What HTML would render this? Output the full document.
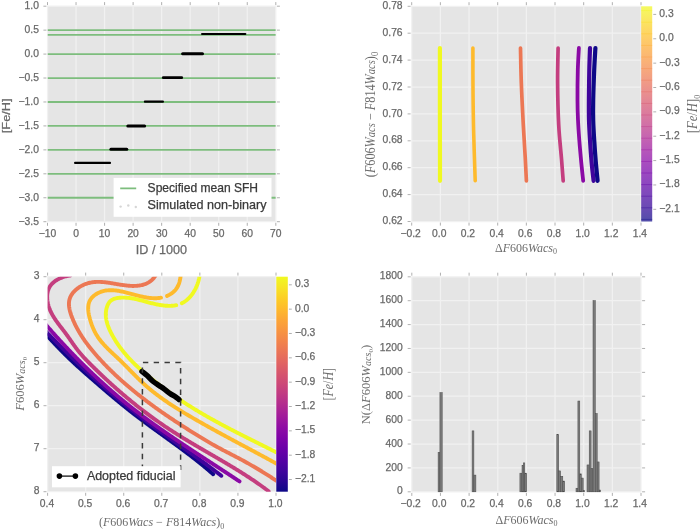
<!DOCTYPE html>
<html><head><meta charset="utf-8"><style>
html,body{margin:0;padding:0;background:#fff;width:700px;height:530px;overflow:hidden}
svg{display:block}
#w{will-change:transform;width:700px;height:530px}
</style></head><body>
<div id="w">
<svg width="700" height="530" viewBox="0 0 700 530">
<rect width="700" height="530" fill="#fff"/>
<rect x="47.5" y="6.2" width="228.30" height="215.50" fill="#e5e5e5"/>
<line x1="47.50" y1="6.2" x2="47.50" y2="221.7" stroke="#f1f1f1" stroke-width="1.25"/>
<line x1="76.04" y1="6.2" x2="76.04" y2="221.7" stroke="#f1f1f1" stroke-width="1.25"/>
<line x1="104.58" y1="6.2" x2="104.58" y2="221.7" stroke="#f1f1f1" stroke-width="1.25"/>
<line x1="133.11" y1="6.2" x2="133.11" y2="221.7" stroke="#f1f1f1" stroke-width="1.25"/>
<line x1="161.65" y1="6.2" x2="161.65" y2="221.7" stroke="#f1f1f1" stroke-width="1.25"/>
<line x1="190.19" y1="6.2" x2="190.19" y2="221.7" stroke="#f1f1f1" stroke-width="1.25"/>
<line x1="218.72" y1="6.2" x2="218.72" y2="221.7" stroke="#f1f1f1" stroke-width="1.25"/>
<line x1="247.26" y1="6.2" x2="247.26" y2="221.7" stroke="#f1f1f1" stroke-width="1.25"/>
<line x1="275.80" y1="6.2" x2="275.80" y2="221.7" stroke="#f1f1f1" stroke-width="1.25"/>
<line x1="47.5" y1="6.20" x2="275.8" y2="6.20" stroke="#f1f1f1" stroke-width="1.25"/>
<line x1="47.5" y1="30.14" x2="275.8" y2="30.14" stroke="#f1f1f1" stroke-width="1.25"/>
<line x1="47.5" y1="54.09" x2="275.8" y2="54.09" stroke="#f1f1f1" stroke-width="1.25"/>
<line x1="47.5" y1="78.03" x2="275.8" y2="78.03" stroke="#f1f1f1" stroke-width="1.25"/>
<line x1="47.5" y1="101.98" x2="275.8" y2="101.98" stroke="#f1f1f1" stroke-width="1.25"/>
<line x1="47.5" y1="125.92" x2="275.8" y2="125.92" stroke="#f1f1f1" stroke-width="1.25"/>
<line x1="47.5" y1="149.87" x2="275.8" y2="149.87" stroke="#f1f1f1" stroke-width="1.25"/>
<line x1="47.5" y1="173.81" x2="275.8" y2="173.81" stroke="#f1f1f1" stroke-width="1.25"/>
<line x1="47.5" y1="197.76" x2="275.8" y2="197.76" stroke="#f1f1f1" stroke-width="1.25"/>
<line x1="47.5" y1="221.70" x2="275.8" y2="221.70" stroke="#f1f1f1" stroke-width="1.25"/>
<clipPath id="c1"><rect x="47.5" y="6.2" width="228.3" height="215.5"/></clipPath>
<g clip-path="url(#c1)">
<line x1="47.5" y1="30.14" x2="275.8" y2="30.14" stroke="#7dbd7d" stroke-width="1.8"/>
<line x1="47.5" y1="34.93" x2="275.8" y2="34.93" stroke="#7dbd7d" stroke-width="1.8"/>
<line x1="47.5" y1="54.09" x2="275.8" y2="54.09" stroke="#7dbd7d" stroke-width="1.8"/>
<line x1="47.5" y1="78.03" x2="275.8" y2="78.03" stroke="#7dbd7d" stroke-width="1.8"/>
<line x1="47.5" y1="101.98" x2="275.8" y2="101.98" stroke="#7dbd7d" stroke-width="1.8"/>
<line x1="47.5" y1="125.92" x2="275.8" y2="125.92" stroke="#7dbd7d" stroke-width="1.8"/>
<line x1="47.5" y1="149.87" x2="275.8" y2="149.87" stroke="#7dbd7d" stroke-width="1.8"/>
<line x1="47.5" y1="173.81" x2="275.8" y2="173.81" stroke="#7dbd7d" stroke-width="1.8"/>
<line x1="47.5" y1="197.76" x2="275.8" y2="197.76" stroke="#7dbd7d" stroke-width="1.8"/>
<line x1="202.00" y1="34.1" x2="245.40" y2="34.1" stroke="#000" stroke-width="2.0" stroke-linecap="round"/>
<line x1="182.60" y1="53.8" x2="202.50" y2="53.8" stroke="#000" stroke-width="3.0" stroke-linecap="round"/>
<line x1="163.30" y1="77.7" x2="181.70" y2="77.7" stroke="#000" stroke-width="2.8" stroke-linecap="round"/>
<line x1="144.90" y1="101.7" x2="162.90" y2="101.7" stroke="#000" stroke-width="2.2" stroke-linecap="round"/>
<line x1="127.80" y1="126.1" x2="144.60" y2="126.1" stroke="#000" stroke-width="3.0" stroke-linecap="round"/>
<line x1="110.90" y1="149.3" x2="126.80" y2="149.3" stroke="#000" stroke-width="3.0" stroke-linecap="round"/>
<line x1="75.10" y1="162.9" x2="110.00" y2="162.9" stroke="#000" stroke-width="2.2" stroke-linecap="round"/>
<rect x="113.6" y="177.9" width="157.9" height="38.9" fill="#ffffff"/>
<line x1="120.2" y1="188.4" x2="136.2" y2="188.4" stroke="#7dbd7d" stroke-width="1.6"/>
<circle cx="120.6" cy="206.6" r="1.2" fill="#d6d6d6"/>
<circle cx="128.3" cy="205.5" r="1.2" fill="#d6d6d6"/>
<circle cx="135.8" cy="207.0" r="1.2" fill="#d6d6d6"/>
</g>
<line x1="47.50" y1="222.79999999999998" x2="47.50" y2="225.79999999999998" stroke="#9c9c9c" stroke-width="0.8"/>
<line x1="47.50" y1="5.1" x2="47.50" y2="2.0999999999999996" stroke="#9c9c9c" stroke-width="0.8"/>
<line x1="76.04" y1="222.79999999999998" x2="76.04" y2="225.79999999999998" stroke="#9c9c9c" stroke-width="0.8"/>
<line x1="76.04" y1="5.1" x2="76.04" y2="2.0999999999999996" stroke="#9c9c9c" stroke-width="0.8"/>
<line x1="104.58" y1="222.79999999999998" x2="104.58" y2="225.79999999999998" stroke="#9c9c9c" stroke-width="0.8"/>
<line x1="104.58" y1="5.1" x2="104.58" y2="2.0999999999999996" stroke="#9c9c9c" stroke-width="0.8"/>
<line x1="133.11" y1="222.79999999999998" x2="133.11" y2="225.79999999999998" stroke="#9c9c9c" stroke-width="0.8"/>
<line x1="133.11" y1="5.1" x2="133.11" y2="2.0999999999999996" stroke="#9c9c9c" stroke-width="0.8"/>
<line x1="161.65" y1="222.79999999999998" x2="161.65" y2="225.79999999999998" stroke="#9c9c9c" stroke-width="0.8"/>
<line x1="161.65" y1="5.1" x2="161.65" y2="2.0999999999999996" stroke="#9c9c9c" stroke-width="0.8"/>
<line x1="190.19" y1="222.79999999999998" x2="190.19" y2="225.79999999999998" stroke="#9c9c9c" stroke-width="0.8"/>
<line x1="190.19" y1="5.1" x2="190.19" y2="2.0999999999999996" stroke="#9c9c9c" stroke-width="0.8"/>
<line x1="218.72" y1="222.79999999999998" x2="218.72" y2="225.79999999999998" stroke="#9c9c9c" stroke-width="0.8"/>
<line x1="218.72" y1="5.1" x2="218.72" y2="2.0999999999999996" stroke="#9c9c9c" stroke-width="0.8"/>
<line x1="247.26" y1="222.79999999999998" x2="247.26" y2="225.79999999999998" stroke="#9c9c9c" stroke-width="0.8"/>
<line x1="247.26" y1="5.1" x2="247.26" y2="2.0999999999999996" stroke="#9c9c9c" stroke-width="0.8"/>
<line x1="275.80" y1="222.79999999999998" x2="275.80" y2="225.79999999999998" stroke="#9c9c9c" stroke-width="0.8"/>
<line x1="275.80" y1="5.1" x2="275.80" y2="2.0999999999999996" stroke="#9c9c9c" stroke-width="0.8"/>
<line x1="46.4" y1="6.20" x2="43.4" y2="6.20" stroke="#9c9c9c" stroke-width="0.8"/>
<line x1="276.90000000000003" y1="6.20" x2="279.90000000000003" y2="6.20" stroke="#9c9c9c" stroke-width="0.8"/>
<line x1="46.4" y1="30.14" x2="43.4" y2="30.14" stroke="#9c9c9c" stroke-width="0.8"/>
<line x1="276.90000000000003" y1="30.14" x2="279.90000000000003" y2="30.14" stroke="#9c9c9c" stroke-width="0.8"/>
<line x1="46.4" y1="54.09" x2="43.4" y2="54.09" stroke="#9c9c9c" stroke-width="0.8"/>
<line x1="276.90000000000003" y1="54.09" x2="279.90000000000003" y2="54.09" stroke="#9c9c9c" stroke-width="0.8"/>
<line x1="46.4" y1="78.03" x2="43.4" y2="78.03" stroke="#9c9c9c" stroke-width="0.8"/>
<line x1="276.90000000000003" y1="78.03" x2="279.90000000000003" y2="78.03" stroke="#9c9c9c" stroke-width="0.8"/>
<line x1="46.4" y1="101.98" x2="43.4" y2="101.98" stroke="#9c9c9c" stroke-width="0.8"/>
<line x1="276.90000000000003" y1="101.98" x2="279.90000000000003" y2="101.98" stroke="#9c9c9c" stroke-width="0.8"/>
<line x1="46.4" y1="125.92" x2="43.4" y2="125.92" stroke="#9c9c9c" stroke-width="0.8"/>
<line x1="276.90000000000003" y1="125.92" x2="279.90000000000003" y2="125.92" stroke="#9c9c9c" stroke-width="0.8"/>
<line x1="46.4" y1="149.87" x2="43.4" y2="149.87" stroke="#9c9c9c" stroke-width="0.8"/>
<line x1="276.90000000000003" y1="149.87" x2="279.90000000000003" y2="149.87" stroke="#9c9c9c" stroke-width="0.8"/>
<line x1="46.4" y1="173.81" x2="43.4" y2="173.81" stroke="#9c9c9c" stroke-width="0.8"/>
<line x1="276.90000000000003" y1="173.81" x2="279.90000000000003" y2="173.81" stroke="#9c9c9c" stroke-width="0.8"/>
<line x1="46.4" y1="197.76" x2="43.4" y2="197.76" stroke="#9c9c9c" stroke-width="0.8"/>
<line x1="276.90000000000003" y1="197.76" x2="279.90000000000003" y2="197.76" stroke="#9c9c9c" stroke-width="0.8"/>
<line x1="46.4" y1="221.70" x2="43.4" y2="221.70" stroke="#9c9c9c" stroke-width="0.8"/>
<line x1="276.90000000000003" y1="221.70" x2="279.90000000000003" y2="221.70" stroke="#9c9c9c" stroke-width="0.8"/>
<text x="147.60" y="192.00" font-size="12.05" text-anchor="start" fill="#3a3a3a" stroke="#3a3a3a" stroke-width="0.25" font-family='"Liberation Sans", sans-serif' >Specified mean SFH</text>
<text x="147.60" y="209.00" font-size="12.6" text-anchor="start" fill="#3a3a3a" stroke="#3a3a3a" stroke-width="0.25" font-family='"Liberation Sans", sans-serif' >Simulated non-binary</text>
<text x="47.50" y="236.91" font-size="10.3" text-anchor="middle" fill="#686868" stroke="#686868" stroke-width="0.25" font-family='"Liberation Sans", sans-serif' >−10</text>
<text x="76.04" y="236.91" font-size="10.3" text-anchor="middle" fill="#686868" stroke="#686868" stroke-width="0.25" font-family='"Liberation Sans", sans-serif' >0</text>
<text x="104.58" y="236.91" font-size="10.3" text-anchor="middle" fill="#686868" stroke="#686868" stroke-width="0.25" font-family='"Liberation Sans", sans-serif' >10</text>
<text x="133.11" y="236.91" font-size="10.3" text-anchor="middle" fill="#686868" stroke="#686868" stroke-width="0.25" font-family='"Liberation Sans", sans-serif' >20</text>
<text x="161.65" y="236.91" font-size="10.3" text-anchor="middle" fill="#686868" stroke="#686868" stroke-width="0.25" font-family='"Liberation Sans", sans-serif' >30</text>
<text x="190.19" y="236.91" font-size="10.3" text-anchor="middle" fill="#686868" stroke="#686868" stroke-width="0.25" font-family='"Liberation Sans", sans-serif' >40</text>
<text x="218.72" y="236.91" font-size="10.3" text-anchor="middle" fill="#686868" stroke="#686868" stroke-width="0.25" font-family='"Liberation Sans", sans-serif' >50</text>
<text x="247.26" y="236.91" font-size="10.3" text-anchor="middle" fill="#686868" stroke="#686868" stroke-width="0.25" font-family='"Liberation Sans", sans-serif' >60</text>
<text x="275.80" y="236.91" font-size="10.3" text-anchor="middle" fill="#686868" stroke="#686868" stroke-width="0.25" font-family='"Liberation Sans", sans-serif' >70</text>
<text x="38.90" y="9.31" font-size="10.3" text-anchor="end" fill="#686868" stroke="#686868" stroke-width="0.25" font-family='"Liberation Sans", sans-serif' >1.0</text>
<text x="38.90" y="33.25" font-size="10.3" text-anchor="end" fill="#686868" stroke="#686868" stroke-width="0.25" font-family='"Liberation Sans", sans-serif' >0.5</text>
<text x="38.90" y="57.20" font-size="10.3" text-anchor="end" fill="#686868" stroke="#686868" stroke-width="0.25" font-family='"Liberation Sans", sans-serif' >0.0</text>
<text x="38.90" y="81.14" font-size="10.3" text-anchor="end" fill="#686868" stroke="#686868" stroke-width="0.25" font-family='"Liberation Sans", sans-serif' >−0.5</text>
<text x="38.90" y="105.09" font-size="10.3" text-anchor="end" fill="#686868" stroke="#686868" stroke-width="0.25" font-family='"Liberation Sans", sans-serif' >−1.0</text>
<text x="38.90" y="129.03" font-size="10.3" text-anchor="end" fill="#686868" stroke="#686868" stroke-width="0.25" font-family='"Liberation Sans", sans-serif' >−1.5</text>
<text x="38.90" y="152.97" font-size="10.3" text-anchor="end" fill="#686868" stroke="#686868" stroke-width="0.25" font-family='"Liberation Sans", sans-serif' >−2.0</text>
<text x="38.90" y="176.92" font-size="10.3" text-anchor="end" fill="#686868" stroke="#686868" stroke-width="0.25" font-family='"Liberation Sans", sans-serif' >−2.5</text>
<text x="38.90" y="200.86" font-size="10.3" text-anchor="end" fill="#686868" stroke="#686868" stroke-width="0.25" font-family='"Liberation Sans", sans-serif' >−3.0</text>
<text x="38.90" y="224.81" font-size="10.3" text-anchor="end" fill="#686868" stroke="#686868" stroke-width="0.25" font-family='"Liberation Sans", sans-serif' >−3.5</text>
<text x="161.40" y="253.84" font-size="12.6" text-anchor="middle" fill="#686868" stroke="#686868" stroke-width="0.25" font-family='"Liberation Sans", sans-serif' >ID / 1000</text>
<text transform="translate(9.57,115.8) rotate(-90) scale(1,0.8)" font-size="12.8" text-anchor="middle" fill="#686868" stroke="#686868" stroke-width="0.3" font-family='"Liberation Sans", sans-serif'>[Fe/H]</text>
<rect x="411.7" y="6.3" width="229.30" height="215.20" fill="#e5e5e5"/>
<line x1="411.70" y1="6.3" x2="411.70" y2="221.5" stroke="#f1f1f1" stroke-width="1.25"/>
<line x1="440.36" y1="6.3" x2="440.36" y2="221.5" stroke="#f1f1f1" stroke-width="1.25"/>
<line x1="469.02" y1="6.3" x2="469.02" y2="221.5" stroke="#f1f1f1" stroke-width="1.25"/>
<line x1="497.69" y1="6.3" x2="497.69" y2="221.5" stroke="#f1f1f1" stroke-width="1.25"/>
<line x1="526.35" y1="6.3" x2="526.35" y2="221.5" stroke="#f1f1f1" stroke-width="1.25"/>
<line x1="555.01" y1="6.3" x2="555.01" y2="221.5" stroke="#f1f1f1" stroke-width="1.25"/>
<line x1="583.68" y1="6.3" x2="583.68" y2="221.5" stroke="#f1f1f1" stroke-width="1.25"/>
<line x1="612.34" y1="6.3" x2="612.34" y2="221.5" stroke="#f1f1f1" stroke-width="1.25"/>
<line x1="641.00" y1="6.3" x2="641.00" y2="221.5" stroke="#f1f1f1" stroke-width="1.25"/>
<line x1="411.7" y1="6.30" x2="641.0" y2="6.30" stroke="#f1f1f1" stroke-width="1.25"/>
<line x1="411.7" y1="33.20" x2="641.0" y2="33.20" stroke="#f1f1f1" stroke-width="1.25"/>
<line x1="411.7" y1="60.10" x2="641.0" y2="60.10" stroke="#f1f1f1" stroke-width="1.25"/>
<line x1="411.7" y1="87.00" x2="641.0" y2="87.00" stroke="#f1f1f1" stroke-width="1.25"/>
<line x1="411.7" y1="113.90" x2="641.0" y2="113.90" stroke="#f1f1f1" stroke-width="1.25"/>
<line x1="411.7" y1="140.80" x2="641.0" y2="140.80" stroke="#f1f1f1" stroke-width="1.25"/>
<line x1="411.7" y1="167.70" x2="641.0" y2="167.70" stroke="#f1f1f1" stroke-width="1.25"/>
<line x1="411.7" y1="194.60" x2="641.0" y2="194.60" stroke="#f1f1f1" stroke-width="1.25"/>
<line x1="411.7" y1="221.50" x2="641.0" y2="221.50" stroke="#f1f1f1" stroke-width="1.25"/>
<clipPath id="c2"><rect x="411.7" y="6.3" width="229.3" height="215.2"/></clipPath>
<g clip-path="url(#c2)">
<path d="M439.90,48.00 C439.90,58.33 439.88,87.87 439.90,110.00 C439.92,132.13 439.98,169.00 440.00,180.80" fill="none" stroke="#f0f921" stroke-width="4.2" stroke-linecap="round" stroke-linejoin="round"/>
<path d="M472.90,48.00 C472.92,55.00 472.88,76.33 473.00,90.00 C473.12,103.67 473.23,114.87 473.60,130.00 C473.97,145.13 474.93,172.33 475.20,180.80" fill="none" stroke="#feba2c" stroke-width="3.6" stroke-linecap="round" stroke-linejoin="round"/>
<path d="M520.50,48.00 C520.63,53.75 520.83,69.68 521.30,82.50 C521.77,95.32 522.63,112.17 523.30,124.90 C523.97,137.63 524.78,149.58 525.30,158.90 C525.82,168.22 526.22,177.15 526.40,180.80" fill="none" stroke="#ec7754" stroke-width="3.7" stroke-linecap="round" stroke-linejoin="round"/>
<path d="M558.10,48.00 C558.02,53.75 557.50,69.68 557.60,82.50 C557.70,95.32 558.05,112.17 558.70,124.90 C559.35,137.63 560.75,149.58 561.50,158.90 C562.25,168.22 562.92,177.15 563.20,180.80" fill="none" stroke="#c43e7f" stroke-width="3.7" stroke-linecap="round" stroke-linejoin="round"/>
<path d="M578.90,48.00 C578.72,51.70 578.03,61.47 577.80,70.20 C577.57,78.93 577.47,92.10 577.50,100.40 C577.53,108.70 577.70,113.37 578.00,120.00 C578.30,126.63 578.75,133.07 579.30,140.20 C579.85,147.33 580.65,156.03 581.30,162.80 C581.95,169.57 582.88,177.80 583.20,180.80" fill="none" stroke="#8a09a5" stroke-width="3.8" stroke-linecap="round" stroke-linejoin="round"/>
<path d="M590.00,48.00 C589.88,51.67 589.48,61.33 589.30,70.00 C589.12,78.67 588.95,91.67 588.90,100.00 C588.85,108.33 588.82,113.33 589.00,120.00 C589.18,126.67 589.57,133.00 590.00,140.00 C590.43,147.00 591.00,155.20 591.60,162.00 C592.20,168.80 593.27,177.67 593.60,180.80" fill="none" stroke="#3f049c" stroke-width="4.2" stroke-linecap="round" stroke-linejoin="round"/>
<path d="M595.40,48.00 C595.20,51.67 594.57,61.33 594.20,70.00 C593.83,78.67 593.37,91.67 593.20,100.00 C593.03,108.33 593.03,113.33 593.20,120.00 C593.37,126.67 593.77,133.00 594.20,140.00 C594.63,147.00 595.23,155.20 595.80,162.00 C596.37,168.80 597.30,177.67 597.60,180.80" fill="none" stroke="#0d0887" stroke-width="4.2" stroke-linecap="round" stroke-linejoin="round"/>
</g>
<line x1="411.70" y1="222.6" x2="411.70" y2="225.6" stroke="#9c9c9c" stroke-width="0.8"/>
<line x1="411.70" y1="5.199999999999999" x2="411.70" y2="2.1999999999999993" stroke="#9c9c9c" stroke-width="0.8"/>
<line x1="440.36" y1="222.6" x2="440.36" y2="225.6" stroke="#9c9c9c" stroke-width="0.8"/>
<line x1="440.36" y1="5.199999999999999" x2="440.36" y2="2.1999999999999993" stroke="#9c9c9c" stroke-width="0.8"/>
<line x1="469.02" y1="222.6" x2="469.02" y2="225.6" stroke="#9c9c9c" stroke-width="0.8"/>
<line x1="469.02" y1="5.199999999999999" x2="469.02" y2="2.1999999999999993" stroke="#9c9c9c" stroke-width="0.8"/>
<line x1="497.69" y1="222.6" x2="497.69" y2="225.6" stroke="#9c9c9c" stroke-width="0.8"/>
<line x1="497.69" y1="5.199999999999999" x2="497.69" y2="2.1999999999999993" stroke="#9c9c9c" stroke-width="0.8"/>
<line x1="526.35" y1="222.6" x2="526.35" y2="225.6" stroke="#9c9c9c" stroke-width="0.8"/>
<line x1="526.35" y1="5.199999999999999" x2="526.35" y2="2.1999999999999993" stroke="#9c9c9c" stroke-width="0.8"/>
<line x1="555.01" y1="222.6" x2="555.01" y2="225.6" stroke="#9c9c9c" stroke-width="0.8"/>
<line x1="555.01" y1="5.199999999999999" x2="555.01" y2="2.1999999999999993" stroke="#9c9c9c" stroke-width="0.8"/>
<line x1="583.68" y1="222.6" x2="583.68" y2="225.6" stroke="#9c9c9c" stroke-width="0.8"/>
<line x1="583.68" y1="5.199999999999999" x2="583.68" y2="2.1999999999999993" stroke="#9c9c9c" stroke-width="0.8"/>
<line x1="612.34" y1="222.6" x2="612.34" y2="225.6" stroke="#9c9c9c" stroke-width="0.8"/>
<line x1="612.34" y1="5.199999999999999" x2="612.34" y2="2.1999999999999993" stroke="#9c9c9c" stroke-width="0.8"/>
<line x1="641.00" y1="222.6" x2="641.00" y2="225.6" stroke="#9c9c9c" stroke-width="0.8"/>
<line x1="641.00" y1="5.199999999999999" x2="641.00" y2="2.1999999999999993" stroke="#9c9c9c" stroke-width="0.8"/>
<line x1="410.59999999999997" y1="6.30" x2="407.59999999999997" y2="6.30" stroke="#9c9c9c" stroke-width="0.8"/>
<line x1="410.59999999999997" y1="33.20" x2="407.59999999999997" y2="33.20" stroke="#9c9c9c" stroke-width="0.8"/>
<line x1="410.59999999999997" y1="60.10" x2="407.59999999999997" y2="60.10" stroke="#9c9c9c" stroke-width="0.8"/>
<line x1="410.59999999999997" y1="87.00" x2="407.59999999999997" y2="87.00" stroke="#9c9c9c" stroke-width="0.8"/>
<line x1="410.59999999999997" y1="113.90" x2="407.59999999999997" y2="113.90" stroke="#9c9c9c" stroke-width="0.8"/>
<line x1="410.59999999999997" y1="140.80" x2="407.59999999999997" y2="140.80" stroke="#9c9c9c" stroke-width="0.8"/>
<line x1="410.59999999999997" y1="167.70" x2="407.59999999999997" y2="167.70" stroke="#9c9c9c" stroke-width="0.8"/>
<line x1="410.59999999999997" y1="194.60" x2="407.59999999999997" y2="194.60" stroke="#9c9c9c" stroke-width="0.8"/>
<line x1="410.59999999999997" y1="221.50" x2="407.59999999999997" y2="221.50" stroke="#9c9c9c" stroke-width="0.8"/>
<text x="410.60" y="237.01" font-size="10.3" text-anchor="middle" fill="#686868" stroke="#686868" stroke-width="0.25" font-family='"Liberation Sans", sans-serif' >−0.2</text>
<text x="439.26" y="237.01" font-size="10.3" text-anchor="middle" fill="#686868" stroke="#686868" stroke-width="0.25" font-family='"Liberation Sans", sans-serif' >0.0</text>
<text x="467.92" y="237.01" font-size="10.3" text-anchor="middle" fill="#686868" stroke="#686868" stroke-width="0.25" font-family='"Liberation Sans", sans-serif' >0.2</text>
<text x="496.59" y="237.01" font-size="10.3" text-anchor="middle" fill="#686868" stroke="#686868" stroke-width="0.25" font-family='"Liberation Sans", sans-serif' >0.4</text>
<text x="525.25" y="237.01" font-size="10.3" text-anchor="middle" fill="#686868" stroke="#686868" stroke-width="0.25" font-family='"Liberation Sans", sans-serif' >0.6</text>
<text x="553.91" y="237.01" font-size="10.3" text-anchor="middle" fill="#686868" stroke="#686868" stroke-width="0.25" font-family='"Liberation Sans", sans-serif' >0.8</text>
<text x="582.58" y="237.01" font-size="10.3" text-anchor="middle" fill="#686868" stroke="#686868" stroke-width="0.25" font-family='"Liberation Sans", sans-serif' >1.0</text>
<text x="611.24" y="237.01" font-size="10.3" text-anchor="middle" fill="#686868" stroke="#686868" stroke-width="0.25" font-family='"Liberation Sans", sans-serif' >1.2</text>
<text x="639.90" y="237.01" font-size="10.3" text-anchor="middle" fill="#686868" stroke="#686868" stroke-width="0.25" font-family='"Liberation Sans", sans-serif' >1.4</text>
<text x="402.60" y="8.91" font-size="10.3" text-anchor="end" fill="#686868" stroke="#686868" stroke-width="0.25" font-family='"Liberation Sans", sans-serif' >0.78</text>
<text x="402.60" y="35.81" font-size="10.3" text-anchor="end" fill="#686868" stroke="#686868" stroke-width="0.25" font-family='"Liberation Sans", sans-serif' >0.76</text>
<text x="402.60" y="62.71" font-size="10.3" text-anchor="end" fill="#686868" stroke="#686868" stroke-width="0.25" font-family='"Liberation Sans", sans-serif' >0.74</text>
<text x="402.60" y="89.61" font-size="10.3" text-anchor="end" fill="#686868" stroke="#686868" stroke-width="0.25" font-family='"Liberation Sans", sans-serif' >0.72</text>
<text x="402.60" y="116.51" font-size="10.3" text-anchor="end" fill="#686868" stroke="#686868" stroke-width="0.25" font-family='"Liberation Sans", sans-serif' >0.70</text>
<text x="402.60" y="143.41" font-size="10.3" text-anchor="end" fill="#686868" stroke="#686868" stroke-width="0.25" font-family='"Liberation Sans", sans-serif' >0.68</text>
<text x="402.60" y="170.31" font-size="10.3" text-anchor="end" fill="#686868" stroke="#686868" stroke-width="0.25" font-family='"Liberation Sans", sans-serif' >0.66</text>
<text x="402.60" y="197.21" font-size="10.3" text-anchor="end" fill="#686868" stroke="#686868" stroke-width="0.25" font-family='"Liberation Sans", sans-serif' >0.64</text>
<text x="402.60" y="224.11" font-size="10.3" text-anchor="end" fill="#686868" stroke="#686868" stroke-width="0.25" font-family='"Liberation Sans", sans-serif' >0.62</text>
<defs><linearGradient id="gp" x1="0" y1="1" x2="0" y2="0"><stop offset="0.000" stop-color="#0d0887"/><stop offset="0.050" stop-color="#2a0593"/><stop offset="0.100" stop-color="#41049d"/><stop offset="0.150" stop-color="#5601a4"/><stop offset="0.200" stop-color="#6a00a8"/><stop offset="0.250" stop-color="#7e03a8"/><stop offset="0.300" stop-color="#8f0da4"/><stop offset="0.350" stop-color="#a11b9b"/><stop offset="0.400" stop-color="#b12a90"/><stop offset="0.450" stop-color="#bf3984"/><stop offset="0.500" stop-color="#cc4778"/><stop offset="0.550" stop-color="#d6556d"/><stop offset="0.600" stop-color="#e16462"/><stop offset="0.650" stop-color="#ea7457"/><stop offset="0.700" stop-color="#f2844b"/><stop offset="0.750" stop-color="#f89540"/><stop offset="0.800" stop-color="#fca636"/><stop offset="0.850" stop-color="#feba2c"/><stop offset="0.900" stop-color="#fcce25"/><stop offset="0.950" stop-color="#f7e425"/><stop offset="1.000" stop-color="#f0f921"/></linearGradient></defs>
<rect x="641.2" y="6.3" width="11.0" height="215.2" fill="url(#gp)" opacity="0.72"/>
<defs><linearGradient id="gpu" gradientUnits="userSpaceOnUse" x1="0" y1="221.5" x2="0" y2="6.3"><stop offset="0.000" stop-color="#0d0887"/><stop offset="0.050" stop-color="#2a0593"/><stop offset="0.100" stop-color="#41049d"/><stop offset="0.150" stop-color="#5601a4"/><stop offset="0.200" stop-color="#6a00a8"/><stop offset="0.250" stop-color="#7e03a8"/><stop offset="0.300" stop-color="#8f0da4"/><stop offset="0.350" stop-color="#a11b9b"/><stop offset="0.400" stop-color="#b12a90"/><stop offset="0.450" stop-color="#bf3984"/><stop offset="0.500" stop-color="#cc4778"/><stop offset="0.550" stop-color="#d6556d"/><stop offset="0.600" stop-color="#e16462"/><stop offset="0.650" stop-color="#ea7457"/><stop offset="0.700" stop-color="#f2844b"/><stop offset="0.750" stop-color="#f89540"/><stop offset="0.800" stop-color="#fca636"/><stop offset="0.850" stop-color="#feba2c"/><stop offset="0.900" stop-color="#fcce25"/><stop offset="0.950" stop-color="#f7e425"/><stop offset="1.000" stop-color="#f0f921"/></linearGradient></defs>
<rect x="641.2" y="10.10" width="11.00" height="1" fill="url(#gpu)" opacity="0.4"/>
<rect x="641.2" y="21.70" width="11.00" height="1" fill="url(#gpu)" opacity="0.4"/>
<rect x="641.2" y="33.30" width="11.00" height="1" fill="url(#gpu)" opacity="0.4"/>
<rect x="641.2" y="44.90" width="11.00" height="1" fill="url(#gpu)" opacity="0.4"/>
<rect x="641.2" y="56.50" width="11.00" height="1" fill="url(#gpu)" opacity="0.4"/>
<rect x="641.2" y="68.10" width="11.00" height="1" fill="url(#gpu)" opacity="0.4"/>
<rect x="641.2" y="79.70" width="11.00" height="1" fill="url(#gpu)" opacity="0.4"/>
<rect x="641.2" y="91.30" width="11.00" height="1" fill="url(#gpu)" opacity="0.4"/>
<rect x="641.2" y="102.90" width="11.00" height="1" fill="url(#gpu)" opacity="0.4"/>
<rect x="641.2" y="114.50" width="11.00" height="1" fill="url(#gpu)" opacity="0.4"/>
<rect x="641.2" y="126.10" width="11.00" height="1" fill="url(#gpu)" opacity="0.4"/>
<rect x="641.2" y="137.70" width="11.00" height="1" fill="url(#gpu)" opacity="0.4"/>
<rect x="641.2" y="149.30" width="11.00" height="1" fill="url(#gpu)" opacity="0.4"/>
<rect x="641.2" y="160.90" width="11.00" height="1" fill="url(#gpu)" opacity="0.4"/>
<rect x="641.2" y="172.50" width="11.00" height="1" fill="url(#gpu)" opacity="0.4"/>
<rect x="641.2" y="184.10" width="11.00" height="1" fill="url(#gpu)" opacity="0.4"/>
<rect x="641.2" y="195.70" width="11.00" height="1" fill="url(#gpu)" opacity="0.4"/>
<rect x="641.2" y="207.30" width="11.00" height="1" fill="url(#gpu)" opacity="0.4"/>
<rect x="641.2" y="218.90" width="11.00" height="1" fill="url(#gpu)" opacity="0.4"/>
<line x1="653.3000000000001" y1="14.42" x2="656.2" y2="14.42" stroke="#9c9c9c" stroke-width="0.8"/>
<text x="659.30" y="16.93" font-size="10.3" text-anchor="start" fill="#686868" stroke="#686868" stroke-width="0.25" font-family='"Liberation Sans", sans-serif' >0.3</text>
<line x1="653.3000000000001" y1="38.78" x2="656.2" y2="38.78" stroke="#9c9c9c" stroke-width="0.8"/>
<text x="659.30" y="41.29" font-size="10.3" text-anchor="start" fill="#686868" stroke="#686868" stroke-width="0.25" font-family='"Liberation Sans", sans-serif' >0.0</text>
<line x1="653.3000000000001" y1="63.15" x2="656.2" y2="63.15" stroke="#9c9c9c" stroke-width="0.8"/>
<text x="659.30" y="65.65" font-size="10.3" text-anchor="start" fill="#686868" stroke="#686868" stroke-width="0.25" font-family='"Liberation Sans", sans-serif' >−0.3</text>
<line x1="653.3000000000001" y1="87.51" x2="656.2" y2="87.51" stroke="#9c9c9c" stroke-width="0.8"/>
<text x="659.30" y="90.02" font-size="10.3" text-anchor="start" fill="#686868" stroke="#686868" stroke-width="0.25" font-family='"Liberation Sans", sans-serif' >−0.6</text>
<line x1="653.3000000000001" y1="111.87" x2="656.2" y2="111.87" stroke="#9c9c9c" stroke-width="0.8"/>
<text x="659.30" y="114.38" font-size="10.3" text-anchor="start" fill="#686868" stroke="#686868" stroke-width="0.25" font-family='"Liberation Sans", sans-serif' >−0.9</text>
<line x1="653.3000000000001" y1="136.23" x2="656.2" y2="136.23" stroke="#9c9c9c" stroke-width="0.8"/>
<text x="659.30" y="138.74" font-size="10.3" text-anchor="start" fill="#686868" stroke="#686868" stroke-width="0.25" font-family='"Liberation Sans", sans-serif' >−1.2</text>
<line x1="653.3000000000001" y1="160.59" x2="656.2" y2="160.59" stroke="#9c9c9c" stroke-width="0.8"/>
<text x="659.30" y="163.10" font-size="10.3" text-anchor="start" fill="#686868" stroke="#686868" stroke-width="0.25" font-family='"Liberation Sans", sans-serif' >−1.5</text>
<line x1="653.3000000000001" y1="184.96" x2="656.2" y2="184.96" stroke="#9c9c9c" stroke-width="0.8"/>
<text x="659.30" y="187.46" font-size="10.3" text-anchor="start" fill="#686868" stroke="#686868" stroke-width="0.25" font-family='"Liberation Sans", sans-serif' >−1.8</text>
<line x1="653.3000000000001" y1="209.32" x2="656.2" y2="209.32" stroke="#9c9c9c" stroke-width="0.8"/>
<text x="659.30" y="211.83" font-size="10.3" text-anchor="start" fill="#686868" stroke="#686868" stroke-width="0.25" font-family='"Liberation Sans", sans-serif' >−2.1</text>
<text transform="translate(697.2,114.0) rotate(-90) scale(1,1.13)" font-size="12.6" text-anchor="middle" fill="#6c6c6c" font-family='"Liberation Serif", serif'>[<tspan font-style="italic">Fe</tspan>/<tspan font-style="italic">H</tspan>]<tspan font-size="8" dy="2.5">0</tspan></text>
<text x="526" y="251.8" font-size="12" text-anchor="middle" fill="#6c6c6c" font-family='"Liberation Serif", serif'>Δ<tspan font-style="italic">F</tspan>606<tspan font-style="italic">Wacs</tspan><tspan font-size="8" dy="2.2">0</tspan></text>
<text transform="translate(374.9,114.5) rotate(-90) scale(1,1.12)" font-size="12.2" text-anchor="middle" fill="#6c6c6c" font-family='"Liberation Serif", serif'>(<tspan font-style="italic">F</tspan>606<tspan font-style="italic">W</tspan><tspan font-style="italic" font-size="10.6">acs</tspan> − <tspan font-style="italic">F</tspan>814<tspan font-style="italic">W</tspan><tspan font-style="italic" font-size="10.6">acs</tspan>)<tspan font-size="8.5" dy="2.4">0</tspan></text>
<rect x="47.6" y="276.7" width="228.40" height="215.00" fill="#e5e5e5"/>
<line x1="47.60" y1="276.7" x2="47.60" y2="491.7" stroke="#f1f1f1" stroke-width="1.25"/>
<line x1="85.67" y1="276.7" x2="85.67" y2="491.7" stroke="#f1f1f1" stroke-width="1.25"/>
<line x1="123.73" y1="276.7" x2="123.73" y2="491.7" stroke="#f1f1f1" stroke-width="1.25"/>
<line x1="161.80" y1="276.7" x2="161.80" y2="491.7" stroke="#f1f1f1" stroke-width="1.25"/>
<line x1="199.87" y1="276.7" x2="199.87" y2="491.7" stroke="#f1f1f1" stroke-width="1.25"/>
<line x1="237.93" y1="276.7" x2="237.93" y2="491.7" stroke="#f1f1f1" stroke-width="1.25"/>
<line x1="276.00" y1="276.7" x2="276.00" y2="491.7" stroke="#f1f1f1" stroke-width="1.25"/>
<line x1="47.6" y1="276.70" x2="276.0" y2="276.70" stroke="#f1f1f1" stroke-width="1.25"/>
<line x1="47.6" y1="319.70" x2="276.0" y2="319.70" stroke="#f1f1f1" stroke-width="1.25"/>
<line x1="47.6" y1="362.70" x2="276.0" y2="362.70" stroke="#f1f1f1" stroke-width="1.25"/>
<line x1="47.6" y1="405.70" x2="276.0" y2="405.70" stroke="#f1f1f1" stroke-width="1.25"/>
<line x1="47.6" y1="448.70" x2="276.0" y2="448.70" stroke="#f1f1f1" stroke-width="1.25"/>
<line x1="47.6" y1="491.70" x2="276.0" y2="491.70" stroke="#f1f1f1" stroke-width="1.25"/>
<clipPath id="c3"><rect x="47.6" y="276.7" width="228.4" height="215.0"/></clipPath>
<g clip-path="url(#c3)">
<path d="M44.13,332.36 L44.50,332.77 L44.88,333.18 L45.25,333.60 L45.63,334.01 L46.00,334.42 L46.38,334.83 L46.75,335.24 L47.13,335.65 L47.50,336.06 L47.88,336.47 L48.25,336.88 L48.63,337.29 L49.01,337.70 L49.38,338.11 L49.76,338.52 L50.14,338.93 L50.51,339.33 L50.89,339.74 L51.27,340.15 L51.65,340.55 L52.03,340.96 L52.40,341.37 L52.78,341.77 L53.16,342.18 L53.54,342.58 L53.92,342.99 L54.30,343.39 L54.68,343.79 L55.06,344.20 L55.44,344.60 L55.83,345.00 L56.21,345.41 L56.59,345.81 L56.97,346.21 L57.36,346.61 L57.74,347.01 L58.12,347.41 L58.51,347.81 L58.89,348.21 L59.28,348.60 L59.66,349.00 L60.05,349.40 L60.44,349.80 L60.82,350.19 L61.21,350.59 L61.60,350.98 L61.99,351.38 L62.38,351.77 L62.76,352.17 L63.15,352.56 L63.54,352.95 L63.94,353.34 L64.33,353.73 L64.72,354.13 L65.11,354.52 L65.50,354.91 L65.90,355.29 L66.29,355.68 L66.69,356.07 L67.08,356.46 L67.48,356.84 L67.87,357.23 L68.27,357.62 L68.67,358.00 L69.06,358.38 L69.46,358.77 L69.86,359.15 L70.26,359.53 L70.66,359.91 L71.06,360.29 L71.47,360.67 L71.87,361.05 L72.27,361.43 L72.67,361.81 L73.08,362.19 L73.48,362.56 L73.89,362.94 L74.29,363.32 L74.70,363.69 L75.11,364.07 L75.51,364.44 L75.92,364.82 L76.33,365.19 L76.74,365.56 L77.15,365.93 L77.56,366.31 L77.97,366.68 L78.38,367.05 L78.79,367.42 L79.20,367.79 L79.61,368.16 L80.02,368.53 L80.43,368.90 L80.85,369.27 L81.26,369.63 L81.67,370.00 L82.09,370.37 L82.50,370.74 L82.91,371.11 L83.33,371.47 L83.74,371.84 L84.16,372.21 L84.57,372.57 L84.99,372.94 L85.40,373.30 L85.82,373.67 L86.23,374.04 L86.65,374.40 L87.07,374.77 L87.48,375.13 L87.90,375.50 L88.32,375.86 L88.73,376.23 L89.15,376.59 L89.57,376.96 L89.98,377.32 L90.40,377.69 L90.82,378.05 L91.24,378.41 L91.65,378.78 L92.07,379.14 L92.49,379.51 L92.91,379.87 L93.32,380.24 L93.74,380.60 L94.16,380.96 L94.58,381.33 L95.00,381.69 L95.41,382.06 L95.83,382.42 L96.25,382.78 L96.67,383.15 L97.09,383.51 L97.51,383.87 L97.93,384.24 L98.35,384.60 L98.76,384.96 L99.18,385.33 L99.60,385.69 L100.02,386.05 L100.44,386.41 L100.86,386.78 L101.28,387.14 L101.70,387.50 L102.12,387.86 L102.55,388.22 L102.97,388.58 L103.39,388.95 L103.81,389.31 L104.23,389.67 L104.65,390.03 L105.07,390.39 L105.49,390.75 L105.92,391.11 L106.34,391.47 L106.76,391.83 L107.18,392.19 L107.61,392.55 L108.03,392.91 L108.45,393.27 L108.88,393.62 L109.30,393.98 L109.72,394.34 L110.15,394.70 L110.57,395.06 L110.99,395.41 L111.42,395.77 L111.84,396.13 L112.27,396.49 L112.69,396.84 L113.12,397.20 L113.54,397.56 L113.97,397.91 L114.40,398.27 L114.82,398.62 L115.25,398.98 L115.67,399.33 L116.10,399.69 L116.53,400.04 L116.96,400.39 L117.38,400.75 L117.81,401.10 L118.24,401.45 L118.67,401.81 L119.10,402.16 L119.52,402.51 L119.95,402.86 L120.38,403.21 L120.81,403.57 L121.24,403.92 L121.67,404.27 L122.10,404.62 L122.53,404.97 L122.96,405.32 L123.40,405.66 L123.83,406.01 L124.26,406.36 L124.69,406.71 L125.12,407.06 L125.55,407.40 L125.99,407.75 L126.42,408.10 L126.85,408.44 L127.29,408.79 L127.72,409.14 L128.16,409.48 L128.59,409.82 L129.02,410.17 L129.46,410.51 L129.90,410.86 L130.33,411.20 L130.77,411.54 L131.20,411.88 L131.64,412.23 L132.08,412.57 L132.51,412.91 L132.95,413.25 L133.39,413.59 L133.83,413.93 L134.27,414.27 L134.71,414.61 L135.14,414.94 L135.58,415.28 L136.02,415.62 L136.46,415.96 L136.90,416.29 L137.35,416.63 L137.79,416.96 L138.23,417.30 L138.67,417.63 L139.11,417.97 L139.55,418.30 L140.00,418.64 L140.44,418.97 L140.88,419.30 L141.32,419.64 L141.77,419.97 L142.21,420.30 L142.66,420.63 L143.10,420.96 L143.54,421.30 L143.99,421.63 L144.43,421.96 L144.88,422.29 L145.32,422.62 L145.77,422.95 L146.22,423.28 L146.66,423.60 L147.11,423.93 L147.55,424.26 L148.00,424.59 L148.45,424.92 L148.89,425.25 L149.34,425.57 L149.79,425.90 L150.24,426.23 L150.68,426.55 L151.13,426.88 L151.58,427.21 L152.03,427.53 L152.47,427.86 L152.92,428.19 L153.37,428.51 L153.82,428.84 L154.27,429.16 L154.71,429.49 L155.16,429.81 L155.61,430.14 L156.06,430.46 L156.51,430.79 L156.96,431.11 L157.41,431.44 L157.86,431.76 L158.31,432.09 L158.75,432.41 L159.20,432.74 L159.65,433.06 L160.10,433.39 L160.55,433.71 L161.00,434.03 L161.45,434.36 L161.90,434.68 L162.35,435.01 L162.80,435.33 L163.25,435.65 L163.70,435.98 L164.15,436.30 L164.60,436.63 L165.04,436.95 L165.49,437.27 L165.94,437.60 L166.39,437.92 L166.84,438.25 L167.29,438.57 L167.74,438.89 L168.19,439.22 L168.64,439.54 L169.09,439.87 L169.53,440.19 L169.98,440.52 L170.43,440.84 L170.88,441.17 L171.33,441.49 L171.78,441.82 L172.23,442.14 L172.67,442.47 L173.12,442.79 L173.57,443.12 L174.02,443.44 L174.46,443.77 L174.91,444.10 L175.36,444.42 L175.81,444.75 L176.25,445.07 L176.70,445.40 L177.15,445.73 L177.59,446.06 L178.04,446.38 L178.49,446.71 L178.93,447.04 L179.38,447.37 L179.82,447.70 L180.27,448.02 L180.71,448.35 L181.16,448.68 L181.60,449.01 L182.05,449.34 L182.49,449.67 L182.94,450.00 L183.38,450.33 L183.82,450.66 L184.27,450.99 L184.71,451.32 L185.15,451.66 L185.60,451.99 L186.04,452.32 L186.48,452.65 L186.92,452.99 L187.36,453.32 L187.81,453.65 L188.25,453.99 L188.69,454.32 L189.13,454.66 L189.57,454.99 L190.01,455.33 L190.45,455.66 L190.89,456.00 L191.32,456.34 L191.76,456.68 L192.20,457.01 L192.64,457.35 L193.08,457.69 L193.51,458.03 L193.95,458.37 L194.39,458.71 L194.82,459.05 L195.26,459.39 L195.69,459.73 L196.13,460.08 L196.56,460.42 L196.99,460.76 L197.43,461.10 L197.86,461.45 L198.29,461.79 L198.73,462.14 L199.16,462.48 L199.59,462.83 L200.02,463.18 L200.45,463.52 L200.88,463.87 L201.31,464.22 L201.74,464.57 L202.17,464.92 L202.60,465.27 L203.02,465.62 L203.45,465.97 L203.88,466.32 L204.31,466.68 L204.73,467.03 L205.16,467.38 L205.58,467.74 L206.01,468.09 L206.43,468.45 L206.85,468.81 L207.28,469.16 L207.70,469.52 L208.12,469.88 L208.54,470.24 L208.96,470.60 L209.38,470.96 L209.80,471.32 L210.22,471.69 L210.64,472.05 L211.06,472.41 L211.47,472.78 L211.89,473.14 L212.31,473.51 L212.72,473.87 L213.14,474.24" fill="none" stroke="#0d0887" stroke-width="3.9" stroke-linecap="round" stroke-linejoin="round"/>
<path d="M44.02,329.45 L44.42,329.86 L44.82,330.28 L45.22,330.70 L45.62,331.11 L46.02,331.53 L46.42,331.94 L46.83,332.36 L47.23,332.78 L47.63,333.19 L48.03,333.61 L48.44,334.02 L48.84,334.44 L49.24,334.85 L49.64,335.26 L50.05,335.68 L50.45,336.09 L50.85,336.51 L51.26,336.92 L51.66,337.33 L52.07,337.75 L52.47,338.16 L52.88,338.57 L53.28,338.98 L53.69,339.40 L54.09,339.81 L54.50,340.22 L54.90,340.63 L55.31,341.04 L55.72,341.45 L56.12,341.87 L56.53,342.28 L56.94,342.69 L57.34,343.10 L57.75,343.51 L58.16,343.92 L58.57,344.33 L58.98,344.74 L59.38,345.14 L59.79,345.55 L60.20,345.96 L60.61,346.37 L61.02,346.78 L61.43,347.19 L61.84,347.59 L62.25,348.00 L62.66,348.41 L63.07,348.82 L63.48,349.22 L63.89,349.63 L64.30,350.04 L64.71,350.44 L65.13,350.85 L65.54,351.25 L65.95,351.66 L66.36,352.06 L66.78,352.47 L67.19,352.87 L67.60,353.28 L68.01,353.68 L68.43,354.09 L68.84,354.49 L69.26,354.89 L69.67,355.30 L70.08,355.70 L70.50,356.10 L70.91,356.50 L71.33,356.91 L71.74,357.31 L72.16,357.71 L72.58,358.11 L72.99,358.51 L73.41,358.91 L73.83,359.31 L74.24,359.71 L74.66,360.11 L75.08,360.51 L75.49,360.91 L75.91,361.31 L76.33,361.71 L76.75,362.11 L77.17,362.51 L77.59,362.90 L78.01,363.30 L78.42,363.70 L78.84,364.10 L79.26,364.49 L79.68,364.89 L80.10,365.29 L80.52,365.68 L80.95,366.08 L81.37,366.48 L81.79,366.87 L82.21,367.27 L82.63,367.66 L83.05,368.06 L83.48,368.45 L83.90,368.84 L84.32,369.24 L84.74,369.63 L85.17,370.02 L85.59,370.42 L86.02,370.81 L86.44,371.20 L86.86,371.59 L87.29,371.98 L87.71,372.38 L88.14,372.77 L88.56,373.16 L88.99,373.55 L89.42,373.94 L89.84,374.33 L90.27,374.72 L90.70,375.11 L91.12,375.50 L91.55,375.88 L91.98,376.27 L92.41,376.66 L92.83,377.05 L93.26,377.44 L93.69,377.82 L94.12,378.21 L94.55,378.60 L94.98,378.98 L95.41,379.37 L95.84,379.75 L96.27,380.14 L96.70,380.52 L97.13,380.91 L97.56,381.29 L97.99,381.68 L98.42,382.06 L98.86,382.44 L99.29,382.83 L99.72,383.21 L100.15,383.59 L100.59,383.97 L101.02,384.35 L101.45,384.74 L101.89,385.12 L102.32,385.50 L102.75,385.88 L103.19,386.26 L103.62,386.64 L104.06,387.02 L104.49,387.40 L104.93,387.77 L105.37,388.15 L105.80,388.53 L106.24,388.91 L106.68,389.29 L107.11,389.66 L107.55,390.04 L107.99,390.42 L108.43,390.79 L108.86,391.17 L109.30,391.54 L109.74,391.92 L110.18,392.29 L110.62,392.67 L111.06,393.04 L111.50,393.41 L111.94,393.79 L112.38,394.16 L112.82,394.53 L113.26,394.90 L113.70,395.28 L114.14,395.65 L114.59,396.02 L115.03,396.39 L115.47,396.76 L115.91,397.13 L116.36,397.50 L116.80,397.87 L117.24,398.24 L117.69,398.61 L118.13,398.98 L118.58,399.34 L119.02,399.71 L119.47,400.08 L119.91,400.44 L120.36,400.81 L120.80,401.18 L121.25,401.54 L121.70,401.91 L122.14,402.27 L122.59,402.64 L123.04,403.00 L123.49,403.37 L123.94,403.73 L124.38,404.09 L124.83,404.45 L125.28,404.82 L125.73,405.18 L126.18,405.54 L126.63,405.90 L127.08,406.26 L127.53,406.62 L127.98,406.98 L128.43,407.34 L128.89,407.70 L129.34,408.06 L129.79,408.42 L130.24,408.78 L130.69,409.13 L131.15,409.49 L131.60,409.85 L132.05,410.20 L132.51,410.56 L132.96,410.92 L133.42,411.27 L133.87,411.63 L134.33,411.98 L134.78,412.33 L135.24,412.69 L135.69,413.04 L136.15,413.39 L136.61,413.75 L137.06,414.10 L137.52,414.45 L137.98,414.80 L138.44,415.15 L138.90,415.50 L139.35,415.85 L139.81,416.20 L140.27,416.55 L140.73,416.90 L141.19,417.25 L141.65,417.60 L142.11,417.95 L142.57,418.30 L143.03,418.64 L143.49,418.99 L143.95,419.34 L144.41,419.68 L144.88,420.03 L145.34,420.38 L145.80,420.72 L146.26,421.07 L146.72,421.41 L147.19,421.76 L147.65,422.10 L148.11,422.45 L148.58,422.79 L149.04,423.13 L149.50,423.48 L149.97,423.82 L150.43,424.16 L150.90,424.51 L151.36,424.85 L151.82,425.19 L152.29,425.53 L152.75,425.87 L153.22,426.21 L153.69,426.56 L154.15,426.90 L154.62,427.24 L155.08,427.58 L155.55,427.92 L156.02,428.26 L156.48,428.60 L156.95,428.94 L157.42,429.28 L157.88,429.62 L158.35,429.95 L158.82,430.29 L159.28,430.63 L159.75,430.97 L160.22,431.31 L160.69,431.65 L161.15,431.99 L161.62,432.32 L162.09,432.66 L162.56,433.00 L163.03,433.34 L163.49,433.67 L163.96,434.01 L164.43,434.35 L164.90,434.68 L165.37,435.02 L165.84,435.36 L166.31,435.69 L166.78,436.03 L167.24,436.37 L167.71,436.70 L168.18,437.04 L168.65,437.37 L169.12,437.71 L169.59,438.04 L170.06,438.38 L170.53,438.72 L171.00,439.05 L171.47,439.39 L171.94,439.72 L172.41,440.06 L172.88,440.39 L173.35,440.73 L173.82,441.06 L174.29,441.40 L174.76,441.73 L175.23,442.07 L175.70,442.40 L176.17,442.74 L176.64,443.07 L177.11,443.41 L177.58,443.74 L178.05,444.08 L178.52,444.41 L178.99,444.75 L179.46,445.08 L179.93,445.42 L180.40,445.75 L180.87,446.08 L181.34,446.42 L181.81,446.75 L182.28,447.09 L182.75,447.42 L183.22,447.76 L183.68,448.09 L184.15,448.43 L184.62,448.76 L185.09,449.10 L185.56,449.43 L186.03,449.77 L186.50,450.10 L186.97,450.44 L187.44,450.77 L187.91,451.11 L188.38,451.45 L188.85,451.78 L189.32,452.12 L189.78,452.45 L190.25,452.79 L190.72,453.12 L191.19,453.46 L191.66,453.80 L192.13,454.13 L192.60,454.47 L193.06,454.81 L193.53,455.14 L194.00,455.48 L194.47,455.82 L194.93,456.15 L195.40,456.49 L195.87,456.83 L196.34,457.17 L196.80,457.50 L197.27,457.84 L197.74,458.18 L198.20,458.52 L198.67,458.86 L199.14,459.19 L199.60,459.53 L200.07,459.87 L200.54,460.21 L201.00,460.55 L201.47,460.89 L201.93,461.23 L202.40,461.57 L202.86,461.91 L203.33,462.25 L203.79,462.59 L204.26,462.93 L204.72,463.27 L205.18,463.61 L205.65,463.95 L206.11,464.29 L206.58,464.64 L207.04,464.98 L207.50,465.32 L207.97,465.66 L208.43,466.01 L208.89,466.35 L209.35,466.69 L209.81,467.04 L210.28,467.38 L210.74,467.72 L211.20,468.07 L211.66,468.41 L212.12,468.76 L212.58,469.10 L213.04,469.45 L213.50,469.79 L213.96,470.14 L214.42,470.49 L214.88,470.83 L215.34,471.18 L215.80,471.53 L216.25,471.88 L216.71,472.22 L217.17,472.57 L217.63,472.92 L218.09,473.27 L218.54,473.62 L219.00,473.97 L219.45,474.32 L219.91,474.67 L220.37,475.02 L220.82,475.37 L221.28,475.73" fill="none" stroke="#3f049c" stroke-width="3.9" stroke-linecap="round" stroke-linejoin="round"/>
<path d="M43.90,322.44 L44.31,322.92 L44.73,323.40 L45.14,323.88 L45.56,324.36 L45.98,324.84 L46.39,325.32 L46.81,325.80 L47.23,326.28 L47.65,326.76 L48.07,327.23 L48.48,327.71 L48.90,328.19 L49.32,328.67 L49.74,329.14 L50.16,329.62 L50.59,330.10 L51.01,330.57 L51.43,331.05 L51.85,331.52 L52.27,332.00 L52.70,332.47 L53.12,332.95 L53.54,333.42 L53.97,333.89 L54.39,334.37 L54.82,334.84 L55.24,335.31 L55.67,335.78 L56.09,336.25 L56.52,336.73 L56.95,337.20 L57.37,337.67 L57.80,338.14 L58.23,338.61 L58.66,339.08 L59.09,339.55 L59.52,340.02 L59.94,340.48 L60.37,340.95 L60.80,341.42 L61.24,341.89 L61.67,342.35 L62.10,342.82 L62.53,343.29 L62.96,343.75 L63.39,344.22 L63.83,344.68 L64.26,345.15 L64.70,345.61 L65.13,346.08 L65.56,346.54 L66.00,347.00 L66.43,347.47 L66.87,347.93 L67.31,348.39 L67.74,348.85 L68.18,349.31 L68.62,349.77 L69.06,350.23 L69.49,350.69 L69.93,351.15 L70.37,351.61 L70.81,352.07 L71.25,352.53 L71.69,352.99 L72.13,353.45 L72.57,353.90 L73.02,354.36 L73.46,354.82 L73.90,355.27 L74.34,355.73 L74.79,356.18 L75.23,356.64 L75.67,357.09 L76.12,357.55 L76.56,358.00 L77.01,358.45 L77.45,358.90 L77.90,359.36 L78.35,359.81 L78.79,360.26 L79.24,360.71 L79.69,361.16 L80.14,361.61 L80.59,362.06 L81.04,362.51 L81.49,362.96 L81.94,363.40 L82.39,363.85 L82.84,364.30 L83.29,364.75 L83.74,365.19 L84.19,365.64 L84.64,366.08 L85.10,366.53 L85.55,366.97 L86.01,367.42 L86.46,367.86 L86.91,368.30 L87.37,368.75 L87.82,369.19 L88.28,369.63 L88.74,370.07 L89.19,370.51 L89.65,370.95 L90.11,371.39 L90.57,371.83 L91.03,372.27 L91.49,372.71 L91.94,373.14 L92.40,373.58 L92.86,374.02 L93.33,374.45 L93.79,374.89 L94.25,375.33 L94.71,375.76 L95.17,376.19 L95.64,376.63 L96.10,377.06 L96.56,377.49 L97.03,377.93 L97.49,378.36 L97.96,378.79 L98.42,379.22 L98.89,379.65 L99.36,380.08 L99.82,380.51 L100.29,380.94 L100.76,381.37 L101.23,381.79 L101.70,382.22 L102.17,382.65 L102.64,383.07 L103.11,383.50 L103.58,383.93 L104.05,384.35 L104.52,384.77 L104.99,385.20 L105.46,385.62 L105.94,386.04 L106.41,386.46 L106.88,386.89 L107.36,387.31 L107.83,387.73 L108.31,388.15 L108.78,388.57 L109.26,388.98 L109.74,389.40 L110.21,389.82 L110.69,390.24 L111.17,390.65 L111.65,391.07 L112.13,391.49 L112.61,391.90 L113.09,392.31 L113.57,392.73 L114.05,393.14 L114.53,393.55 L115.01,393.97 L115.49,394.38 L115.97,394.79 L116.46,395.20 L116.94,395.61 L117.43,396.02 L117.91,396.43 L118.40,396.83 L118.88,397.24 L119.37,397.65 L119.85,398.05 L120.34,398.46 L120.83,398.86 L121.32,399.27 L121.80,399.67 L122.29,400.08 L122.78,400.48 L123.27,400.88 L123.76,401.28 L124.25,401.68 L124.74,402.08 L125.24,402.48 L125.73,402.88 L126.22,403.28 L126.71,403.68 L127.21,404.08 L127.70,404.47 L128.20,404.87 L128.69,405.26 L129.19,405.66 L129.68,406.05 L130.18,406.45 L130.68,406.84 L131.17,407.23 L131.67,407.62 L132.17,408.01 L132.67,408.41 L133.17,408.80 L133.67,409.19 L134.17,409.57 L134.67,409.96 L135.17,410.35 L135.67,410.74 L136.17,411.13 L136.67,411.51 L137.18,411.90 L137.68,412.28 L138.18,412.67 L138.69,413.05 L139.19,413.43 L139.70,413.82 L140.20,414.20 L140.71,414.58 L141.21,414.96 L141.72,415.35 L142.23,415.73 L142.74,416.11 L143.24,416.49 L143.75,416.86 L144.26,417.24 L144.77,417.62 L145.28,418.00 L145.79,418.38 L146.30,418.75 L146.81,419.13 L147.32,419.50 L147.83,419.88 L148.34,420.25 L148.85,420.63 L149.36,421.00 L149.88,421.38 L150.39,421.75 L150.90,422.12 L151.42,422.49 L151.93,422.87 L152.44,423.24 L152.96,423.61 L153.47,423.98 L153.99,424.35 L154.50,424.72 L155.02,425.09 L155.54,425.45 L156.05,425.82 L156.57,426.19 L157.09,426.56 L157.60,426.93 L158.12,427.29 L158.64,427.66 L159.16,428.02 L159.67,428.39 L160.19,428.76 L160.71,429.12 L161.23,429.48 L161.75,429.85 L162.27,430.21 L162.79,430.58 L163.31,430.94 L163.83,431.30 L164.35,431.66 L164.88,432.03 L165.40,432.39 L165.92,432.75 L166.44,433.11 L166.96,433.47 L167.49,433.83 L168.01,434.19 L168.53,434.55 L169.05,434.91 L169.58,435.27 L170.10,435.63 L170.63,435.99 L171.15,436.35 L171.67,436.70 L172.20,437.06 L172.72,437.42 L173.25,437.78 L173.77,438.13 L174.30,438.49 L174.82,438.84 L175.35,439.20 L175.88,439.56 L176.40,439.91 L176.93,440.27 L177.45,440.62 L177.98,440.98 L178.51,441.33 L179.04,441.69 L179.56,442.04 L180.09,442.39 L180.62,442.75 L181.15,443.10 L181.67,443.45 L182.20,443.81 L182.73,444.16 L183.26,444.51 L183.79,444.86 L184.32,445.21 L184.84,445.57 L185.37,445.92 L185.90,446.27 L186.43,446.62 L186.96,446.97 L187.49,447.32 L188.02,447.67 L188.55,448.02 L189.08,448.37 L189.61,448.72 L190.14,449.07 L190.67,449.42 L191.20,449.77 L191.73,450.12 L192.26,450.47 L192.79,450.82 L193.32,451.17 L193.85,451.52 L194.38,451.87 L194.92,452.22 L195.45,452.57 L195.98,452.91 L196.51,453.26 L197.04,453.61 L197.57,453.96 L198.10,454.31 L198.63,454.65 L199.17,455.00 L199.70,455.35 L200.23,455.70 L200.76,456.04 L201.29,456.39 L201.82,456.74 L202.36,457.09 L202.89,457.43 L203.42,457.78 L203.95,458.13 L204.48,458.48 L205.02,458.82 L205.55,459.17 L206.08,459.52 L206.61,459.86 L207.14,460.21 L207.68,460.56 L208.21,460.90 L208.74,461.25 L209.27,461.60 L209.80,461.94 L210.34,462.29 L210.87,462.63 L211.40,462.98 L211.93,463.33 L212.46,463.67 L213.00,464.02 L213.53,464.37 L214.06,464.71 L214.59,465.06 L215.12,465.41 L215.66,465.75 L216.19,466.10 L216.72,466.45 L217.25,466.79 L217.78,467.14 L218.31,467.49 L218.85,467.83 L219.38,468.18 L219.91,468.53 L220.44,468.87 L220.97,469.22 L221.50,469.57 L222.03,469.91 L222.56,470.26 L223.10,470.61 L223.63,470.95 L224.16,471.30 L224.69,471.65 L225.22,472.00 L225.75,472.34 L226.28,472.69 L226.81,473.04 L227.34,473.39 L227.87,473.73 L228.40,474.08 L228.93,474.43 L229.46,474.78 L229.99,475.13 L230.52,475.47 L231.05,475.82 L231.58,476.17 L232.11,476.52 L232.64,476.87 L233.17,477.22 L233.69,477.57 L234.22,477.92 L234.75,478.27 L235.28,478.61 L235.81,478.96 L236.34,479.31 L236.86,479.66 L237.39,480.01 L237.92,480.36 L238.45,480.72 L238.97,481.07 L239.50,481.42" fill="none" stroke="#8a09a5" stroke-width="3.9" stroke-linecap="round" stroke-linejoin="round"/>
<path d="M70.30,275.50 L69.47,275.61 L68.63,275.74 L67.79,275.90 L66.94,276.07 L66.10,276.26 L65.25,276.48 L64.41,276.72 L63.57,276.98 L62.73,277.26 L61.90,277.56 L61.08,277.88 L60.27,278.22 L59.48,278.58 L58.69,278.96 L57.92,279.37 L57.16,279.79 L56.43,280.24 L55.71,280.70 L55.01,281.18 L54.33,281.69 L53.68,282.21 L53.06,282.75 L52.46,283.32 L51.89,283.90 L51.34,284.50 L50.83,285.12 L50.36,285.76 L49.91,286.42 L49.51,287.10 L49.14,287.80 L48.80,288.51 L48.50,289.24 L48.23,289.98 L47.99,290.74 L47.79,291.51 L47.61,292.29 L47.47,293.08 L47.35,293.89 L47.27,294.70 L47.21,295.52 L47.18,296.34 L47.18,297.17 L47.20,298.01 L47.25,298.84 L47.33,299.68 L47.42,300.52 L47.54,301.37 L47.68,302.21 L47.85,303.05 L48.03,303.88 L48.24,304.71 L48.46,305.54 L48.70,306.36 L48.96,307.17 L49.24,307.98 L49.54,308.77 L49.85,309.56 L50.17,310.34 L50.51,311.11 L50.87,311.88 L51.24,312.64 L51.62,313.39 L52.01,314.13 L52.42,314.87 L52.83,315.60 L53.26,316.33 L53.70,317.05 L54.14,317.76 L54.60,318.47 L55.07,319.18 L55.54,319.88 L56.02,320.57 L56.50,321.27 L56.99,321.96 L57.49,322.65 L57.99,323.33 L58.50,324.01 L59.01,324.69 L59.53,325.37 L60.04,326.05 L60.56,326.72 L61.08,327.40 L61.60,328.07 L62.12,328.74 L62.64,329.41 L63.16,330.09 L63.68,330.76 L64.19,331.44 L64.71,332.11 L65.22,332.79 L65.72,333.47 L66.22,334.15 L66.72,334.83 L67.21,335.51 L67.70,336.20 L68.19,336.89 L68.67,337.57 L69.15,338.26 L69.63,338.95 L70.11,339.64 L70.59,340.33 L71.06,341.02 L71.54,341.71 L72.02,342.39 L72.49,343.08 L72.97,343.76 L73.45,344.45 L73.93,345.13 L74.42,345.81 L74.90,346.48 L75.39,347.16 L75.89,347.83 L76.39,348.50 L76.89,349.16 L77.40,349.82 L77.91,350.48 L78.43,351.13 L78.95,351.78 L79.48,352.42 L80.02,353.06 L80.56,353.70 L81.11,354.33 L81.66,354.96 L82.21,355.59 L82.77,356.21 L83.33,356.83 L83.90,357.45 L84.47,358.07 L85.04,358.68 L85.62,359.29 L86.20,359.90 L86.78,360.50 L87.36,361.11 L87.95,361.71 L88.54,362.31 L89.13,362.91 L89.72,363.50 L90.32,364.10 L90.91,364.70 L91.51,365.29 L92.11,365.88 L92.71,366.48 L93.31,367.07 L93.91,367.66 L94.51,368.25 L95.11,368.84 L95.71,369.43 L96.31,370.01 L96.92,370.60 L97.52,371.19 L98.13,371.77 L98.74,372.36 L99.34,372.94 L99.95,373.52 L100.56,374.11 L101.17,374.69 L101.78,375.27 L102.39,375.85 L103.01,376.42 L103.62,377.00 L104.24,377.58 L104.85,378.15 L105.47,378.73 L106.08,379.30 L106.70,379.87 L107.32,380.45 L107.94,381.02 L108.56,381.59 L109.18,382.16 L109.80,382.72 L110.43,383.29 L111.05,383.86 L111.68,384.42 L112.30,384.99 L112.93,385.55 L113.56,386.11 L114.18,386.67 L114.81,387.23 L115.44,387.79 L116.07,388.35 L116.71,388.91 L117.34,389.47 L117.97,390.02 L118.61,390.57 L119.24,391.13 L119.88,391.68 L120.51,392.23 L121.15,392.78 L121.79,393.33 L122.43,393.88 L123.07,394.43 L123.71,394.97 L124.35,395.52 L125.00,396.06 L125.64,396.60 L126.29,397.14 L126.93,397.69 L127.58,398.23 L128.23,398.76 L128.87,399.30 L129.52,399.84 L130.17,400.37 L130.82,400.91 L131.48,401.44 L132.13,401.97 L132.78,402.50 L133.44,403.03 L134.09,403.56 L134.75,404.09 L135.41,404.61 L136.06,405.14 L136.72,405.66 L137.38,406.18 L138.04,406.70 L138.71,407.22 L139.37,407.74 L140.03,408.26 L140.70,408.78 L141.36,409.29 L142.03,409.81 L142.70,410.32 L143.36,410.83 L144.03,411.34 L144.70,411.85 L145.37,412.36 L146.05,412.87 L146.72,413.37 L147.39,413.88 L148.07,414.38 L148.74,414.88 L149.42,415.38 L150.09,415.88 L150.77,416.38 L151.45,416.88 L152.13,417.37 L152.81,417.87 L153.49,418.36 L154.18,418.85 L154.86,419.34 L155.54,419.83 L156.23,420.32 L156.92,420.80 L157.60,421.29 L158.29,421.77 L158.98,422.25 L159.67,422.73 L160.36,423.21 L161.05,423.69 L161.75,424.17 L162.44,424.64 L163.13,425.12 L163.83,425.59 L164.52,426.06 L165.22,426.53 L165.92,427.00 L166.62,427.47 L167.32,427.94 L168.02,428.40 L168.72,428.86 L169.43,429.32 L170.13,429.78 L170.83,430.24 L171.54,430.70 L172.25,431.16 L172.95,431.61 L173.66,432.07 L174.37,432.52 L175.08,432.97 L175.79,433.42 L176.50,433.87 L177.21,434.32 L177.93,434.76 L178.64,435.21 L179.35,435.65 L180.07,436.10 L180.78,436.54 L181.50,436.98 L182.22,437.42 L182.93,437.86 L183.65,438.30 L184.37,438.74 L185.09,439.17 L185.81,439.61 L186.53,440.04 L187.25,440.48 L187.97,440.91 L188.69,441.34 L189.42,441.78 L190.14,442.21 L190.86,442.64 L191.59,443.07 L192.31,443.50 L193.03,443.93 L193.76,444.36 L194.48,444.78 L195.21,445.21 L195.94,445.64 L196.66,446.06 L197.39,446.49 L198.11,446.92 L198.84,447.34 L199.57,447.77 L200.30,448.19 L201.02,448.61 L201.75,449.04 L202.48,449.46 L203.21,449.89 L203.94,450.31 L204.66,450.73 L205.39,451.15 L206.12,451.58 L206.85,452.00 L207.58,452.42 L208.31,452.85 L209.03,453.27 L209.76,453.69 L210.49,454.11 L211.22,454.54 L211.95,454.96 L212.68,455.38 L213.41,455.80 L214.13,456.23 L214.86,456.65 L215.59,457.07 L216.32,457.50 L217.05,457.92 L217.77,458.34 L218.50,458.77 L219.23,459.19 L219.96,459.62 L220.68,460.04 L221.41,460.47 L222.14,460.90 L222.86,461.32 L223.59,461.75 L224.31,462.18 L225.04,462.61 L225.76,463.03 L226.49,463.46 L227.21,463.89 L227.93,464.32 L228.66,464.76 L229.38,465.19 L230.10,465.62 L230.82,466.05 L231.54,466.49 L232.27,466.92 L232.99,467.36 L233.71,467.79 L234.42,468.23 L235.14,468.67 L235.86,469.11 L236.58,469.55 L237.29,469.99 L238.01,470.43 L238.73,470.88 L239.44,471.32 L240.15,471.76 L240.87,472.21 L241.58,472.66 L242.29,473.11 L243.00,473.56 L243.71,474.01 L244.42,474.46 L245.13,474.91 L245.84,475.37 L246.55,475.82 L247.25,476.28 L247.96,476.74 L248.66,477.20 L249.37,477.66 L250.07,478.12 L250.77,478.58 L251.47,479.05 L252.17,479.52 L252.87,479.99 L253.57,480.46 L254.27,480.93 L254.96,481.40 L255.66,481.87 L256.35,482.35 L257.04,482.83 L257.73,483.31 L258.42,483.79 L259.11,484.27 L259.80,484.76 L260.49,485.24 L261.17,485.73 L261.86,486.22 L262.54,486.72 L263.22,487.21 L263.90,487.71 L264.58,488.20 L265.26,488.70 L265.94,489.21 L266.61,489.71 L267.29,490.22 L267.96,490.72 L268.63,491.23" fill="none" stroke="#c43e7f" stroke-width="3.9" stroke-linecap="round" stroke-linejoin="round"/>
<path d="M155.80,275.01 L155.24,275.93 L154.65,276.81 L154.03,277.64 L153.39,278.42 L152.72,279.15 L152.02,279.84 L151.30,280.48 L150.56,281.08 L149.79,281.64 L149.01,282.16 L148.21,282.64 L147.38,283.08 L146.54,283.49 L145.69,283.86 L144.81,284.19 L143.93,284.49 L143.02,284.76 L142.11,285.00 L141.18,285.21 L140.25,285.39 L139.30,285.54 L138.35,285.66 L137.38,285.76 L136.41,285.84 L135.44,285.89 L134.45,285.92 L133.47,285.93 L132.48,285.93 L131.49,285.90 L130.50,285.86 L129.51,285.80 L128.52,285.73 L127.53,285.64 L126.54,285.54 L125.55,285.43 L124.57,285.31 L123.58,285.17 L122.59,285.04 L121.61,284.89 L120.62,284.74 L119.64,284.58 L118.65,284.41 L117.67,284.25 L116.69,284.08 L115.71,283.91 L114.73,283.74 L113.75,283.57 L112.77,283.41 L111.80,283.25 L110.82,283.09 L109.85,282.93 L108.88,282.79 L107.91,282.65 L106.94,282.52 L105.97,282.39 L105.00,282.28 L104.04,282.18 L103.07,282.09 L102.11,282.02 L101.15,281.96 L100.19,281.92 L99.23,281.89 L98.28,281.88 L97.33,281.89 L96.37,281.92 L95.42,281.97 L94.48,282.04 L93.53,282.13 L92.59,282.25 L91.65,282.40 L90.71,282.57 L89.77,282.76 L88.83,282.99 L87.90,283.24 L86.97,283.53 L86.04,283.84 L85.12,284.19 L84.20,284.57 L83.28,284.98 L82.37,285.43 L81.48,285.90 L80.59,286.40 L79.72,286.93 L78.87,287.49 L78.04,288.07 L77.23,288.68 L76.45,289.31 L75.69,289.96 L74.96,290.64 L74.26,291.34 L73.60,292.07 L72.97,292.81 L72.38,293.57 L71.83,294.35 L71.32,295.15 L70.86,295.96 L70.45,296.79 L70.08,297.63 L69.77,298.49 L69.51,299.37 L69.30,300.25 L69.14,301.15 L69.03,302.05 L68.97,302.97 L68.94,303.89 L68.96,304.83 L69.02,305.77 L69.12,306.71 L69.25,307.66 L69.41,308.61 L69.60,309.57 L69.82,310.53 L70.06,311.48 L70.33,312.44 L70.63,313.40 L70.94,314.36 L71.26,315.31 L71.61,316.26 L71.96,317.20 L72.33,318.14 L72.70,319.07 L73.09,320.00 L73.48,320.92 L73.88,321.83 L74.29,322.74 L74.71,323.64 L75.14,324.53 L75.57,325.42 L76.02,326.30 L76.47,327.18 L76.92,328.05 L77.39,328.92 L77.86,329.78 L78.34,330.64 L78.83,331.49 L79.33,332.33 L79.83,333.17 L80.34,334.01 L80.85,334.84 L81.37,335.66 L81.90,336.48 L82.43,337.30 L82.97,338.11 L83.52,338.92 L84.07,339.72 L84.63,340.52 L85.19,341.31 L85.76,342.10 L86.33,342.89 L86.91,343.67 L87.49,344.45 L88.08,345.22 L88.67,346.00 L89.27,346.76 L89.87,347.53 L90.48,348.29 L91.09,349.04 L91.70,349.80 L92.32,350.55 L92.94,351.29 L93.56,352.04 L94.19,352.78 L94.82,353.52 L95.46,354.25 L96.09,354.98 L96.73,355.72 L97.38,356.44 L98.02,357.17 L98.67,357.89 L99.32,358.61 L99.98,359.33 L100.63,360.05 L101.29,360.76 L101.95,361.47 L102.62,362.18 L103.28,362.88 L103.95,363.59 L104.62,364.29 L105.30,364.99 L105.97,365.69 L106.65,366.38 L107.33,367.07 L108.01,367.76 L108.70,368.45 L109.39,369.14 L110.08,369.82 L110.77,370.50 L111.46,371.18 L112.16,371.86 L112.86,372.53 L113.56,373.21 L114.26,373.88 L114.97,374.55 L115.67,375.21 L116.38,375.88 L117.09,376.54 L117.81,377.20 L118.52,377.86 L119.24,378.51 L119.96,379.16 L120.68,379.82 L121.41,380.47 L122.13,381.11 L122.86,381.76 L123.59,382.40 L124.32,383.04 L125.05,383.68 L125.79,384.32 L126.53,384.96 L127.26,385.59 L128.01,386.22 L128.75,386.85 L129.49,387.48 L130.24,388.11 L130.98,388.73 L131.73,389.35 L132.48,389.97 L133.24,390.59 L133.99,391.21 L134.75,391.82 L135.50,392.44 L136.26,393.05 L137.02,393.66 L137.79,394.27 L138.55,394.87 L139.31,395.48 L140.08,396.08 L140.85,396.68 L141.62,397.28 L142.39,397.88 L143.16,398.47 L143.94,399.07 L144.71,399.66 L145.49,400.25 L146.27,400.84 L147.04,401.43 L147.82,402.01 L148.61,402.60 L149.39,403.18 L150.17,403.76 L150.96,404.34 L151.75,404.92 L152.53,405.50 L153.32,406.07 L154.11,406.65 L154.90,407.22 L155.70,407.79 L156.49,408.36 L157.28,408.92 L158.08,409.49 L158.87,410.05 L159.67,410.62 L160.47,411.18 L161.27,411.74 L162.07,412.30 L162.87,412.86 L163.67,413.41 L164.48,413.97 L165.28,414.52 L166.09,415.07 L166.89,415.62 L167.70,416.17 L168.50,416.72 L169.31,417.27 L170.12,417.81 L170.93,418.36 L171.74,418.90 L172.55,419.44 L173.36,419.98 L174.17,420.52 L174.99,421.06 L175.80,421.60 L176.61,422.13 L177.43,422.67 L178.24,423.20 L179.06,423.73 L179.88,424.26 L180.69,424.79 L181.51,425.32 L182.33,425.85 L183.14,426.38 L183.96,426.90 L184.78,427.43 L185.60,427.95 L186.42,428.47 L187.24,428.99 L188.06,429.51 L188.88,430.03 L189.70,430.55 L190.52,431.07 L191.34,431.59 L192.17,432.10 L192.99,432.62 L193.81,433.13 L194.63,433.64 L195.45,434.15 L196.28,434.66 L197.10,435.17 L197.92,435.68 L198.75,436.19 L199.57,436.69 L200.40,437.20 L201.22,437.70 L202.05,438.20 L202.88,438.70 L203.71,439.20 L204.54,439.70 L205.37,440.19 L206.20,440.69 L207.03,441.18 L207.87,441.67 L208.70,442.16 L209.54,442.65 L210.38,443.13 L211.22,443.61 L212.06,444.10 L212.90,444.58 L213.74,445.05 L214.59,445.53 L215.43,446.00 L216.28,446.47 L217.13,446.94 L217.99,447.41 L218.84,447.87 L219.70,448.33 L220.56,448.79 L221.42,449.25 L222.28,449.71 L223.14,450.16 L224.00,450.61 L224.87,451.07 L225.74,451.52 L226.60,451.97 L227.47,452.42 L228.34,452.86 L229.21,453.31 L230.07,453.76 L230.94,454.21 L231.81,454.66 L232.68,455.11 L233.55,455.56 L234.41,456.01 L235.28,456.46 L236.15,456.91 L237.01,457.36 L237.88,457.82 L238.74,458.27 L239.60,458.73 L240.46,459.19 L241.32,459.65 L242.17,460.12 L243.03,460.58 L243.89,461.05 L244.74,461.52 L245.59,461.99 L246.44,462.46 L247.29,462.94 L248.14,463.41 L248.99,463.89 L249.83,464.37 L250.68,464.85 L251.52,465.33 L252.36,465.82 L253.20,466.30 L254.04,466.79 L254.88,467.28 L255.72,467.78 L256.56,468.27 L257.39,468.77 L258.23,469.27 L259.06,469.77 L259.89,470.27 L260.72,470.77 L261.55,471.28 L262.38,471.79 L263.21,472.30 L264.03,472.81 L264.86,473.32 L265.68,473.84 L266.51,474.35 L267.33,474.87 L268.15,475.40 L268.97,475.92 L269.79,476.45 L270.61,476.97 L271.42,477.50 L272.24,478.04 L273.05,478.57 L273.87,479.11 L274.68,479.65 L275.49,480.19 L276.30,480.73 L277.11,481.27 L277.92,481.82 L278.73,482.37 L279.54,482.92 L280.34,483.47 L281.15,484.03 L281.95,484.59" fill="none" stroke="#ec7754" stroke-width="3.9" stroke-linecap="round" stroke-linejoin="round"/>
<path d="M180.92,272.96 L180.84,273.86 L180.75,274.78 L180.64,275.72 L180.52,276.66 L180.38,277.62 L180.22,278.58 L180.04,279.54 L179.83,280.49 L179.60,281.45 L179.34,282.39 L179.05,283.32 L178.73,284.23 L178.37,285.13 L177.98,286.00 L177.54,286.85 L177.06,287.67 L176.55,288.45 L175.99,289.21 L175.39,289.93 L174.77,290.63 L174.10,291.29 L173.41,291.92 L172.69,292.52 L171.95,293.09 L171.18,293.63 L170.39,294.14 L169.59,294.61 L168.77,295.06 L167.93,295.47 L167.08,295.85 M160.98,297.68 L160.08,297.83 L159.19,297.95 L158.29,298.05 L157.39,298.13 L156.48,298.18 L155.57,298.21 L154.65,298.21 L153.74,298.20 L152.82,298.17 L151.89,298.11 L150.97,298.04 L150.04,297.95 L149.11,297.85 L148.17,297.73 L147.24,297.60 L146.30,297.45 L145.36,297.29 L144.42,297.11 L143.48,296.93 L142.53,296.73 L141.59,296.53 L140.64,296.31 L139.69,296.09 L138.75,295.86 L137.80,295.63 L136.85,295.38 L135.90,295.14 L134.95,294.89 L134.00,294.64 L133.05,294.38 L132.10,294.13 L131.15,293.87 L130.20,293.61 L129.26,293.36 L128.31,293.11 L127.36,292.86 L126.42,292.61 L125.47,292.38 L124.53,292.14 L123.59,291.92 L122.65,291.70 L121.71,291.50 L120.77,291.30 L119.84,291.12 L118.90,290.95 L117.97,290.79 L117.03,290.65 L116.10,290.53 L115.17,290.42 L114.25,290.33 L113.32,290.26 L112.40,290.22 L111.48,290.19 L110.56,290.19 L109.64,290.21 L108.72,290.25 L107.81,290.32 L106.90,290.42 L105.99,290.55 L105.08,290.70 L104.17,290.89 L103.27,291.11 L102.37,291.36 L101.48,291.64 L100.59,291.95 L99.72,292.30 L98.86,292.67 L98.02,293.08 L97.19,293.51 L96.39,293.98 L95.60,294.48 L94.85,295.00 L94.12,295.56 L93.43,296.15 L92.77,296.76 L92.15,297.40 L91.56,298.08 L91.02,298.77 L90.52,299.50 L90.06,300.26 L89.66,301.04 L89.31,301.85 L89.01,302.69 L88.76,303.55 L88.56,304.44 L88.41,305.34 L88.31,306.27 L88.24,307.21 L88.22,308.16 L88.23,309.13 L88.28,310.11 L88.37,311.10 L88.48,312.09 L88.62,313.09 L88.79,314.09 L88.98,315.10 L89.20,316.10 L89.43,317.09 L89.68,318.08 L89.94,319.07 L90.22,320.04 L90.51,321.00 L90.80,321.95 L91.10,322.88 L91.41,323.80 L91.73,324.71 L92.07,325.61 L92.41,326.50 L92.76,327.37 L93.12,328.23 L93.49,329.08 L93.87,329.92 L94.27,330.76 L94.68,331.58 L95.10,332.39 L95.53,333.19 L95.98,333.98 L96.43,334.76 L96.91,335.54 L97.40,336.31 L97.90,337.07 L98.41,337.82 L98.94,338.56 L99.48,339.30 L100.04,340.03 L100.60,340.75 L101.18,341.47 L101.77,342.18 L102.37,342.88 L102.98,343.58 L103.60,344.28 L104.22,344.97 L104.86,345.65 L105.50,346.33 L106.15,347.01 L106.81,347.68 L107.47,348.35 L108.14,349.02 L108.81,349.69 L109.49,350.35 L110.18,351.01 L110.87,351.67 L111.56,352.32 L112.25,352.98 L112.95,353.63 L113.64,354.29 L114.34,354.94 L115.04,355.59 L115.74,356.25 L116.44,356.90 L117.14,357.55 L117.84,358.21 L118.53,358.87 L119.23,359.53 L119.92,360.19 L120.61,360.85 L121.29,361.51 L121.97,362.18 L122.65,362.85 L123.33,363.52 L124.00,364.19 L124.67,364.86 L125.34,365.54 L126.01,366.21 L126.68,366.89 L127.34,367.56 L128.01,368.24 L128.67,368.91 L129.33,369.59 L129.99,370.27 L130.66,370.94 L131.32,371.62 L131.98,372.29 L132.64,372.97 L133.30,373.64 L133.96,374.31 L134.62,374.98 L135.28,375.65 L135.95,376.31 L136.61,376.98 L137.28,377.64 L137.95,378.30 L138.62,378.96 L139.29,379.61 L139.97,380.27 L140.65,380.92 L141.33,381.56 L142.01,382.20 L142.69,382.84 L143.38,383.48 L144.07,384.11 L144.77,384.74 L145.47,385.36 L146.17,385.98 L146.88,386.60 L147.59,387.21 L148.30,387.82 L149.02,388.42 L149.73,389.03 L150.46,389.62 L151.18,390.22 L151.91,390.81 L152.64,391.40 L153.37,391.98 L154.11,392.56 L154.85,393.14 L155.59,393.71 L156.34,394.28 L157.08,394.85 L157.83,395.41 L158.59,395.97 L159.34,396.53 L160.10,397.09 L160.86,397.64 L161.62,398.19 L162.39,398.74 L163.15,399.28 L163.92,399.82 L164.69,400.36 L165.47,400.90 L166.24,401.43 L167.02,401.96 L167.80,402.49 L168.58,403.02 L169.36,403.54 L170.15,404.06 L170.94,404.58 L171.72,405.10 L172.51,405.61 L173.31,406.12 L174.10,406.63 L174.89,407.14 L175.69,407.65 L176.49,408.15 L177.29,408.65 L178.09,409.15 L178.89,409.65 L179.69,410.15 L180.50,410.64 L181.30,411.13 L182.11,411.63 L182.92,412.12 L183.73,412.60 L184.53,413.09 L185.35,413.58 L186.16,414.06 L186.97,414.54 L187.78,415.02 L188.59,415.50 L189.41,415.98 L190.22,416.46 L191.04,416.94 L191.85,417.41 L192.67,417.88 L193.49,418.36 L194.30,418.83 L195.12,419.30 L195.94,419.77 L196.75,420.24 L197.57,420.71 L198.39,421.18 L199.21,421.64 L200.03,422.11 L200.85,422.57 L201.67,423.04 L202.49,423.50 L203.31,423.96 L204.13,424.43 L204.95,424.89 L205.77,425.35 L206.60,425.81 L207.42,426.27 L208.24,426.72 L209.06,427.18 L209.88,427.64 L210.71,428.10 L211.53,428.55 L212.36,429.01 L213.18,429.46 L214.00,429.91 L214.83,430.37 L215.65,430.82 L216.48,431.27 L217.30,431.72 L218.13,432.17 L218.95,432.63 L219.78,433.08 L220.60,433.53 L221.43,433.97 L222.26,434.42 L223.08,434.87 L223.91,435.32 L224.74,435.77 L225.56,436.21 L226.39,436.66 L227.22,437.11 L228.05,437.55 L228.87,438.00 L229.70,438.45 L230.53,438.89 L231.36,439.34 L232.19,439.78 L233.01,440.23 L233.84,440.67 L234.67,441.12 L235.50,441.56 L236.33,442.01 L237.16,442.45 L237.99,442.89 L238.82,443.34 L239.65,443.78 L240.47,444.22 L241.30,444.67 L242.13,445.11 L242.96,445.56 L243.79,446.00 L244.62,446.44 L245.45,446.89 L246.28,447.33 L247.11,447.77 L247.94,448.22 L248.77,448.66 L249.60,449.10 L250.43,449.55 L251.26,449.99 L252.09,450.44 L252.92,450.88 L253.75,451.33 L254.58,451.77 L255.41,452.22 L256.24,452.66 L257.07,453.11 L257.90,453.55 L258.73,454.00 L259.56,454.45 L260.39,454.89 L261.22,455.34 L262.05,455.79 L262.88,456.24 L263.71,456.69 L264.54,457.13 L265.37,457.58 L266.20,458.03 L267.03,458.48 L267.86,458.93 L268.68,459.38 L269.51,459.84 L270.34,460.29 L271.17,460.74 L272.00,461.19 L272.83,461.65 L273.66,462.10 L274.49,462.56 L275.31,463.01 L276.14,463.47 L276.97,463.92 L277.80,464.38 L278.62,464.84 L279.45,465.30 L280.28,465.76 L281.11,466.22 L281.93,466.68" fill="none" stroke="#feba2c" stroke-width="3.9" stroke-linecap="round" stroke-linejoin="round"/>
<path d="M199.77,272.98 L199.72,273.84 L199.64,274.71 L199.54,275.59 L199.42,276.46 L199.28,277.34 L199.11,278.22 L198.93,279.10 L198.72,279.98 L198.50,280.85 L198.25,281.73 L197.98,282.60 L197.69,283.47 L197.39,284.34 L197.06,285.20 L196.72,286.05 L196.35,286.90 L195.97,287.73 L195.57,288.56 L195.15,289.38 L194.71,290.19 L194.25,290.99 L193.78,291.77 L193.29,292.55 L192.78,293.31 L192.26,294.05 L191.72,294.78 L191.16,295.49 L190.59,296.18 L190.01,296.86 L189.40,297.52 L188.78,298.15 L188.15,298.77 L187.50,299.36 L186.84,299.94 L186.16,300.49 L185.47,301.01 L184.77,301.51 L184.05,301.99 L183.32,302.43 L182.58,302.85 L181.82,303.25 M176.20,305.18 L175.36,305.34 L174.50,305.48 L173.64,305.60 L172.77,305.70 L171.90,305.77 L171.02,305.82 L170.13,305.85 L169.23,305.85 L168.33,305.84 L167.43,305.81 L166.52,305.77 L165.61,305.70 L164.69,305.62 L163.77,305.53 L162.85,305.42 L161.93,305.29 L161.00,305.16 L160.08,305.01 L159.15,304.85 L158.23,304.68 L157.30,304.50 L156.38,304.31 L155.46,304.11 L154.54,303.90 L153.62,303.69 L152.71,303.47 L151.80,303.25 L150.89,303.02 L149.99,302.79 L149.10,302.56 L148.21,302.32 L147.32,302.08 L146.44,301.85 L145.57,301.61 L144.71,301.38 L143.85,301.14 L143.00,300.91 L142.15,300.68 L141.30,300.46 L140.46,300.24 L139.62,300.02 L138.78,299.81 L137.94,299.61 L137.11,299.41 L136.27,299.22 L135.43,299.03 L134.59,298.86 L133.75,298.69 L132.90,298.54 L132.05,298.39 L131.20,298.26 L130.34,298.13 L129.47,298.02 L128.60,297.92 L127.72,297.83 L126.84,297.76 L125.94,297.70 L125.04,297.66 L124.13,297.64 L123.21,297.62 L122.27,297.63 L121.33,297.66 L120.38,297.70 L119.43,297.77 L118.48,297.87 L117.55,298.00 L116.62,298.17 L115.72,298.37 L114.84,298.62 L113.98,298.91 L113.16,299.25 L112.37,299.64 L111.63,300.09 L110.93,300.59 L110.28,301.15 L109.68,301.78 L109.14,302.47 L108.65,303.20 L108.21,303.98 L107.81,304.78 L107.46,305.60 L107.14,306.44 L106.86,307.27 L106.61,308.11 L106.40,308.96 L106.22,309.81 L106.08,310.66 L105.97,311.51 L105.88,312.37 L105.83,313.22 L105.81,314.08 L105.82,314.94 L105.85,315.80 L105.91,316.67 L106.00,317.53 L106.11,318.39 L106.25,319.26 L106.41,320.12 L106.59,320.98 L106.79,321.84 L107.02,322.70 L107.26,323.56 L107.53,324.42 L107.81,325.28 L108.11,326.13 L108.43,326.98 L108.77,327.83 L109.11,328.68 L109.48,329.52 L109.85,330.36 L110.24,331.19 L110.64,332.02 L111.05,332.85 L111.47,333.67 L111.91,334.49 L112.34,335.30 L112.79,336.11 L113.24,336.91 L113.70,337.70 L114.17,338.49 L114.64,339.28 L115.11,340.06 L115.60,340.83 L116.08,341.60 L116.58,342.36 L117.08,343.11 L117.58,343.86 L118.09,344.61 L118.61,345.35 L119.13,346.09 L119.65,346.82 L120.18,347.54 L120.72,348.26 L121.26,348.98 L121.80,349.69 L122.35,350.39 L122.91,351.09 L123.46,351.79 L124.03,352.48 L124.60,353.17 L125.17,353.85 L125.75,354.53 L126.33,355.21 L126.91,355.88 L127.50,356.55 L128.10,357.21 L128.69,357.87 L129.30,358.52 L129.90,359.17 L130.51,359.82 L131.12,360.46 L131.74,361.10 L132.36,361.74 L132.99,362.37 L133.61,363.00 L134.24,363.63 L134.88,364.25 L135.51,364.87 L136.15,365.48 L136.80,366.10 L137.44,366.71 L138.09,367.31 L138.75,367.92 L139.40,368.52 L140.06,369.12 L140.72,369.71 L141.38,370.31 L142.05,370.90 L142.72,371.49 L143.39,372.07 L144.06,372.65 L144.74,373.24 L145.41,373.81 L146.09,374.39 L146.78,374.97 L147.46,375.54 L148.14,376.11 L148.83,376.68 L149.52,377.24 L150.21,377.81 L150.90,378.37 L151.60,378.94 L152.29,379.50 L152.99,380.05 L153.69,380.61 L154.39,381.17 L155.09,381.72 L155.79,382.27 L156.50,382.83 L157.20,383.37 L157.91,383.92 L158.62,384.47 L159.33,385.01 L160.04,385.56 L160.75,386.10 L161.47,386.64 L162.18,387.18 L162.90,387.71 L163.62,388.25 L164.34,388.78 L165.06,389.32 L165.78,389.85 L166.50,390.38 L167.23,390.90 L167.95,391.43 L168.68,391.95 L169.41,392.48 L170.14,393.00 L170.87,393.52 L171.60,394.04 L172.33,394.55 L173.07,395.07 L173.80,395.58 L174.54,396.09 L175.28,396.60 L176.02,397.11 L176.76,397.62 L177.50,398.12 L178.24,398.63 L178.98,399.13 L179.73,399.63 L180.47,400.13 L181.22,400.62 L181.97,401.12 L182.72,401.61 L183.47,402.11 L184.22,402.60 L184.97,403.09 L185.72,403.57 L186.48,404.06 L187.23,404.54 L187.99,405.03 L188.74,405.51 L189.50,405.99 L190.26,406.47 L191.02,406.94 L191.78,407.42 L192.54,407.89 L193.31,408.36 L194.07,408.83 L194.83,409.30 L195.60,409.76 L196.36,410.23 L197.13,410.69 L197.90,411.15 L198.67,411.61 L199.44,412.07 L200.21,412.53 L200.98,412.98 L201.75,413.44 L202.52,413.89 L203.30,414.34 L204.07,414.79 L204.85,415.24 L205.62,415.69 L206.40,416.13 L207.18,416.58 L207.95,417.02 L208.73,417.46 L209.51,417.90 L210.29,418.34 L211.07,418.77 L211.85,419.21 L212.63,419.65 L213.42,420.08 L214.20,420.51 L214.98,420.94 L215.77,421.37 L216.55,421.80 L217.34,422.23 L218.13,422.66 L218.91,423.08 L219.70,423.51 L220.49,423.93 L221.28,424.36 L222.06,424.78 L222.85,425.20 L223.64,425.62 L224.43,426.04 L225.22,426.46 L226.02,426.87 L226.81,427.29 L227.60,427.71 L228.39,428.12 L229.18,428.54 L229.98,428.95 L230.77,429.36 L231.57,429.77 L232.36,430.19 L233.16,430.60 L233.95,431.01 L234.75,431.42 L235.54,431.82 L236.34,432.23 L237.14,432.64 L237.93,433.05 L238.73,433.45 L239.53,433.86 L240.32,434.26 L241.12,434.67 L241.92,435.07 L242.72,435.48 L243.52,435.88 L244.32,436.29 L245.12,436.69 L245.92,437.09 L246.71,437.49 L247.51,437.90 L248.31,438.30 L249.11,438.70 L249.91,439.10 L250.71,439.50 L251.51,439.90 L252.32,440.30 L253.12,440.70 L253.92,441.10 L254.72,441.50 L255.52,441.90 L256.32,442.30 L257.12,442.70 L257.92,443.10 L258.72,443.50 L259.52,443.90 L260.32,444.30 L261.12,444.70 L261.93,445.10 L262.73,445.50 L263.53,445.90 L264.33,446.30 L265.13,446.70 L265.93,447.10 L266.73,447.51 L267.53,447.91 L268.33,448.31 L269.13,448.71 L269.93,449.11 L270.73,449.51 L271.53,449.92 L272.33,450.32 L273.13,450.72 L273.93,451.13 L274.73,451.53 L275.53,451.93 L276.33,452.34 L277.12,452.74 L277.92,453.15 L278.72,453.56 L279.52,453.96 L280.31,454.37 L281.11,454.78 L281.91,455.19" fill="none" stroke="#f0f921" stroke-width="3.9" stroke-linecap="round" stroke-linejoin="round"/>
<path d="M142.00,371.50 C142.85,372.18 145.28,373.98 147.10,375.60 C148.92,377.22 150.98,379.60 152.90,381.20 C154.82,382.80 156.70,383.88 158.60,385.20 C160.50,386.52 162.40,387.73 164.30,389.10 C166.20,390.47 168.10,392.10 170.00,393.40 C171.90,394.70 174.20,395.87 175.70,396.90 C177.20,397.93 178.45,399.15 179.00,399.60" fill="none" stroke="#000" stroke-width="5.4" stroke-linecap="round" stroke-linejoin="round"/>
<path d="M142.4,470 L142.4,362.5 L180.6,362.5 L180.6,470" fill="none" stroke="#3a3a3a" stroke-width="1.5" stroke-dasharray="5.4,5.4"/>
<rect x="52" y="466.2" width="128.6" height="21.1" fill="#ffffff"/>
</g>
<line x1="59.4" y1="476.1" x2="75.4" y2="476.1" stroke="#000" stroke-width="1.2"/>
<circle cx="59.4" cy="476.1" r="2.8" fill="#000"/><circle cx="75.4" cy="476.1" r="2.8" fill="#000"/>
<text x="86.90" y="480.00" font-size="12.45" text-anchor="start" fill="#3a3a3a" stroke="#3a3a3a" stroke-width="0.25" font-family='"Liberation Sans", sans-serif' >Adopted fiducial</text>
<line x1="47.60" y1="492.8" x2="47.60" y2="495.8" stroke="#9c9c9c" stroke-width="0.8"/>
<line x1="47.60" y1="275.59999999999997" x2="47.60" y2="272.59999999999997" stroke="#9c9c9c" stroke-width="0.8"/>
<line x1="85.67" y1="492.8" x2="85.67" y2="495.8" stroke="#9c9c9c" stroke-width="0.8"/>
<line x1="85.67" y1="275.59999999999997" x2="85.67" y2="272.59999999999997" stroke="#9c9c9c" stroke-width="0.8"/>
<line x1="123.73" y1="492.8" x2="123.73" y2="495.8" stroke="#9c9c9c" stroke-width="0.8"/>
<line x1="123.73" y1="275.59999999999997" x2="123.73" y2="272.59999999999997" stroke="#9c9c9c" stroke-width="0.8"/>
<line x1="161.80" y1="492.8" x2="161.80" y2="495.8" stroke="#9c9c9c" stroke-width="0.8"/>
<line x1="161.80" y1="275.59999999999997" x2="161.80" y2="272.59999999999997" stroke="#9c9c9c" stroke-width="0.8"/>
<line x1="199.87" y1="492.8" x2="199.87" y2="495.8" stroke="#9c9c9c" stroke-width="0.8"/>
<line x1="199.87" y1="275.59999999999997" x2="199.87" y2="272.59999999999997" stroke="#9c9c9c" stroke-width="0.8"/>
<line x1="237.93" y1="492.8" x2="237.93" y2="495.8" stroke="#9c9c9c" stroke-width="0.8"/>
<line x1="237.93" y1="275.59999999999997" x2="237.93" y2="272.59999999999997" stroke="#9c9c9c" stroke-width="0.8"/>
<line x1="276.00" y1="492.8" x2="276.00" y2="495.8" stroke="#9c9c9c" stroke-width="0.8"/>
<line x1="276.00" y1="275.59999999999997" x2="276.00" y2="272.59999999999997" stroke="#9c9c9c" stroke-width="0.8"/>
<line x1="46.5" y1="276.70" x2="43.5" y2="276.70" stroke="#9c9c9c" stroke-width="0.8"/>
<line x1="46.5" y1="319.70" x2="43.5" y2="319.70" stroke="#9c9c9c" stroke-width="0.8"/>
<line x1="46.5" y1="362.70" x2="43.5" y2="362.70" stroke="#9c9c9c" stroke-width="0.8"/>
<line x1="46.5" y1="405.70" x2="43.5" y2="405.70" stroke="#9c9c9c" stroke-width="0.8"/>
<line x1="46.5" y1="448.70" x2="43.5" y2="448.70" stroke="#9c9c9c" stroke-width="0.8"/>
<line x1="46.5" y1="491.70" x2="43.5" y2="491.70" stroke="#9c9c9c" stroke-width="0.8"/>
<text x="47.00" y="507.41" font-size="10.3" text-anchor="middle" fill="#686868" stroke="#686868" stroke-width="0.25" font-family='"Liberation Sans", sans-serif' >0.4</text>
<text x="85.07" y="507.41" font-size="10.3" text-anchor="middle" fill="#686868" stroke="#686868" stroke-width="0.25" font-family='"Liberation Sans", sans-serif' >0.5</text>
<text x="123.13" y="507.41" font-size="10.3" text-anchor="middle" fill="#686868" stroke="#686868" stroke-width="0.25" font-family='"Liberation Sans", sans-serif' >0.6</text>
<text x="161.20" y="507.41" font-size="10.3" text-anchor="middle" fill="#686868" stroke="#686868" stroke-width="0.25" font-family='"Liberation Sans", sans-serif' >0.7</text>
<text x="199.27" y="507.41" font-size="10.3" text-anchor="middle" fill="#686868" stroke="#686868" stroke-width="0.25" font-family='"Liberation Sans", sans-serif' >0.8</text>
<text x="237.33" y="507.41" font-size="10.3" text-anchor="middle" fill="#686868" stroke="#686868" stroke-width="0.25" font-family='"Liberation Sans", sans-serif' >0.9</text>
<text x="275.40" y="507.41" font-size="10.3" text-anchor="middle" fill="#686868" stroke="#686868" stroke-width="0.25" font-family='"Liberation Sans", sans-serif' >1.0</text>
<text x="39.60" y="279.31" font-size="10.3" text-anchor="end" fill="#686868" stroke="#686868" stroke-width="0.25" font-family='"Liberation Sans", sans-serif' >3</text>
<text x="39.60" y="322.31" font-size="10.3" text-anchor="end" fill="#686868" stroke="#686868" stroke-width="0.25" font-family='"Liberation Sans", sans-serif' >4</text>
<text x="39.60" y="365.31" font-size="10.3" text-anchor="end" fill="#686868" stroke="#686868" stroke-width="0.25" font-family='"Liberation Sans", sans-serif' >5</text>
<text x="39.60" y="408.31" font-size="10.3" text-anchor="end" fill="#686868" stroke="#686868" stroke-width="0.25" font-family='"Liberation Sans", sans-serif' >6</text>
<text x="39.60" y="451.31" font-size="10.3" text-anchor="end" fill="#686868" stroke="#686868" stroke-width="0.25" font-family='"Liberation Sans", sans-serif' >7</text>
<text x="39.60" y="494.31" font-size="10.3" text-anchor="end" fill="#686868" stroke="#686868" stroke-width="0.25" font-family='"Liberation Sans", sans-serif' >8</text>
<rect x="276.3" y="276.7" width="11.5" height="215.0" fill="url(#gp)"/>
<line x1="288.90000000000003" y1="284.81" x2="291.8" y2="284.81" stroke="#9c9c9c" stroke-width="0.8"/>
<text x="295.00" y="287.32" font-size="10.3" text-anchor="start" fill="#686868" stroke="#686868" stroke-width="0.25" font-family='"Liberation Sans", sans-serif' >0.3</text>
<line x1="288.90000000000003" y1="309.15" x2="291.8" y2="309.15" stroke="#9c9c9c" stroke-width="0.8"/>
<text x="295.00" y="311.66" font-size="10.3" text-anchor="start" fill="#686868" stroke="#686868" stroke-width="0.25" font-family='"Liberation Sans", sans-serif' >0.0</text>
<line x1="288.90000000000003" y1="333.49" x2="291.8" y2="333.49" stroke="#9c9c9c" stroke-width="0.8"/>
<text x="295.00" y="336.00" font-size="10.3" text-anchor="start" fill="#686868" stroke="#686868" stroke-width="0.25" font-family='"Liberation Sans", sans-serif' >−0.3</text>
<line x1="288.90000000000003" y1="357.83" x2="291.8" y2="357.83" stroke="#9c9c9c" stroke-width="0.8"/>
<text x="295.00" y="360.34" font-size="10.3" text-anchor="start" fill="#686868" stroke="#686868" stroke-width="0.25" font-family='"Liberation Sans", sans-serif' >−0.6</text>
<line x1="288.90000000000003" y1="382.17" x2="291.8" y2="382.17" stroke="#9c9c9c" stroke-width="0.8"/>
<text x="295.00" y="384.68" font-size="10.3" text-anchor="start" fill="#686868" stroke="#686868" stroke-width="0.25" font-family='"Liberation Sans", sans-serif' >−0.9</text>
<line x1="288.90000000000003" y1="406.51" x2="291.8" y2="406.51" stroke="#9c9c9c" stroke-width="0.8"/>
<text x="295.00" y="409.02" font-size="10.3" text-anchor="start" fill="#686868" stroke="#686868" stroke-width="0.25" font-family='"Liberation Sans", sans-serif' >−1.2</text>
<line x1="288.90000000000003" y1="430.85" x2="291.8" y2="430.85" stroke="#9c9c9c" stroke-width="0.8"/>
<text x="295.00" y="433.36" font-size="10.3" text-anchor="start" fill="#686868" stroke="#686868" stroke-width="0.25" font-family='"Liberation Sans", sans-serif' >−1.5</text>
<line x1="288.90000000000003" y1="455.19" x2="291.8" y2="455.19" stroke="#9c9c9c" stroke-width="0.8"/>
<text x="295.00" y="457.70" font-size="10.3" text-anchor="start" fill="#686868" stroke="#686868" stroke-width="0.25" font-family='"Liberation Sans", sans-serif' >−1.8</text>
<line x1="288.90000000000003" y1="479.53" x2="291.8" y2="479.53" stroke="#9c9c9c" stroke-width="0.8"/>
<text x="295.00" y="482.04" font-size="10.3" text-anchor="start" fill="#686868" stroke="#686868" stroke-width="0.25" font-family='"Liberation Sans", sans-serif' >−2.1</text>
<text transform="translate(333.2,384.2) rotate(-90) scale(1,1.18)" font-size="12" text-anchor="middle" fill="#6c6c6c" font-family='"Liberation Serif", serif'>[<tspan font-style="italic">Fe</tspan>/<tspan font-style="italic">H</tspan>]</text>
<text x="161.5" y="526" font-size="12" text-anchor="middle" fill="#6c6c6c" font-family='"Liberation Serif", serif'>(<tspan font-style="italic">F</tspan>606<tspan font-style="italic">Wacs</tspan> − <tspan font-style="italic">F</tspan>814<tspan font-style="italic">Wacs</tspan>)<tspan font-size="8" dy="2.5">0</tspan></text>
<text transform="translate(24.2,383.8) rotate(-90)" font-size="12.6" text-anchor="middle" fill="#6c6c6c" font-family='"Liberation Serif", serif'><tspan font-style="italic">F</tspan>606<tspan font-style="italic">W</tspan><tspan font-style="italic" font-size="10" dy="1">acs</tspan><tspan font-size="7" dy="1.5">0</tspan></text>
<rect x="411.8" y="276.8" width="229.20" height="215.00" fill="#e5e5e5"/>
<line x1="411.80" y1="276.8" x2="411.80" y2="491.8" stroke="#f1f1f1" stroke-width="1.25"/>
<line x1="440.45" y1="276.8" x2="440.45" y2="491.8" stroke="#f1f1f1" stroke-width="1.25"/>
<line x1="469.10" y1="276.8" x2="469.10" y2="491.8" stroke="#f1f1f1" stroke-width="1.25"/>
<line x1="497.75" y1="276.8" x2="497.75" y2="491.8" stroke="#f1f1f1" stroke-width="1.25"/>
<line x1="526.40" y1="276.8" x2="526.40" y2="491.8" stroke="#f1f1f1" stroke-width="1.25"/>
<line x1="555.05" y1="276.8" x2="555.05" y2="491.8" stroke="#f1f1f1" stroke-width="1.25"/>
<line x1="583.70" y1="276.8" x2="583.70" y2="491.8" stroke="#f1f1f1" stroke-width="1.25"/>
<line x1="612.35" y1="276.8" x2="612.35" y2="491.8" stroke="#f1f1f1" stroke-width="1.25"/>
<line x1="641.00" y1="276.8" x2="641.00" y2="491.8" stroke="#f1f1f1" stroke-width="1.25"/>
<line x1="411.8" y1="276.80" x2="641.0" y2="276.80" stroke="#f1f1f1" stroke-width="1.25"/>
<line x1="411.8" y1="300.69" x2="641.0" y2="300.69" stroke="#f1f1f1" stroke-width="1.25"/>
<line x1="411.8" y1="324.58" x2="641.0" y2="324.58" stroke="#f1f1f1" stroke-width="1.25"/>
<line x1="411.8" y1="348.47" x2="641.0" y2="348.47" stroke="#f1f1f1" stroke-width="1.25"/>
<line x1="411.8" y1="372.36" x2="641.0" y2="372.36" stroke="#f1f1f1" stroke-width="1.25"/>
<line x1="411.8" y1="396.24" x2="641.0" y2="396.24" stroke="#f1f1f1" stroke-width="1.25"/>
<line x1="411.8" y1="420.13" x2="641.0" y2="420.13" stroke="#f1f1f1" stroke-width="1.25"/>
<line x1="411.8" y1="444.02" x2="641.0" y2="444.02" stroke="#f1f1f1" stroke-width="1.25"/>
<line x1="411.8" y1="467.91" x2="641.0" y2="467.91" stroke="#f1f1f1" stroke-width="1.25"/>
<line x1="411.8" y1="491.80" x2="641.0" y2="491.80" stroke="#f1f1f1" stroke-width="1.25"/>
<rect x="438.10" y="452.38" width="1.80" height="39.42" fill="#7a7a7a" stroke="#4a4a4a" stroke-width="0.5"/>
<rect x="439.90" y="392.66" width="2.30" height="99.14" fill="#7a7a7a" stroke="#4a4a4a" stroke-width="0.5"/>
<rect x="472.10" y="430.88" width="1.80" height="60.92" fill="#7a7a7a" stroke="#4a4a4a" stroke-width="0.5"/>
<rect x="473.90" y="475.08" width="2.00" height="16.72" fill="#7a7a7a" stroke="#4a4a4a" stroke-width="0.5"/>
<rect x="519.90" y="473.17" width="2.10" height="18.63" fill="#7a7a7a" stroke="#4a4a4a" stroke-width="0.5"/>
<rect x="522.00" y="465.64" width="1.30" height="26.16" fill="#7a7a7a" stroke="#4a4a4a" stroke-width="0.5"/>
<rect x="523.30" y="462.89" width="1.50" height="28.91" fill="#7a7a7a" stroke="#4a4a4a" stroke-width="0.5"/>
<rect x="524.80" y="473.17" width="1.90" height="18.63" fill="#7a7a7a" stroke="#4a4a4a" stroke-width="0.5"/>
<rect x="556.80" y="434.47" width="1.90" height="57.33" fill="#7a7a7a" stroke="#4a4a4a" stroke-width="0.5"/>
<rect x="558.70" y="470.90" width="1.90" height="20.90" fill="#7a7a7a" stroke="#4a4a4a" stroke-width="0.5"/>
<rect x="560.60" y="476.27" width="2.20" height="15.53" fill="#7a7a7a" stroke="#4a4a4a" stroke-width="0.5"/>
<rect x="562.80" y="481.05" width="1.90" height="10.75" fill="#7a7a7a" stroke="#4a4a4a" stroke-width="0.5"/>
<rect x="576.00" y="488.22" width="1.90" height="3.58" fill="#7a7a7a" stroke="#4a4a4a" stroke-width="0.5"/>
<rect x="577.90" y="401.02" width="1.90" height="90.78" fill="#7a7a7a" stroke="#4a4a4a" stroke-width="0.5"/>
<rect x="579.80" y="473.88" width="1.50" height="17.92" fill="#7a7a7a" stroke="#4a4a4a" stroke-width="0.5"/>
<rect x="581.30" y="478.06" width="1.90" height="13.74" fill="#7a7a7a" stroke="#4a4a4a" stroke-width="0.5"/>
<rect x="583.20" y="490.61" width="1.50" height="1.19" fill="#7a7a7a" stroke="#4a4a4a" stroke-width="0.5"/>
<rect x="587.00" y="464.93" width="2.20" height="26.88" fill="#7a7a7a" stroke="#4a4a4a" stroke-width="0.5"/>
<rect x="589.20" y="430.88" width="1.90" height="60.92" fill="#7a7a7a" stroke="#4a4a4a" stroke-width="0.5"/>
<rect x="591.10" y="468.51" width="1.90" height="23.29" fill="#7a7a7a" stroke="#4a4a4a" stroke-width="0.5"/>
<rect x="593.00" y="300.69" width="2.30" height="191.11" fill="#7a7a7a" stroke="#4a4a4a" stroke-width="0.5"/>
<rect x="595.30" y="413.56" width="1.90" height="78.24" fill="#7a7a7a" stroke="#4a4a4a" stroke-width="0.5"/>
<rect x="597.20" y="461.94" width="1.90" height="29.86" fill="#7a7a7a" stroke="#4a4a4a" stroke-width="0.5"/>
<rect x="599.10" y="490.01" width="1.50" height="1.79" fill="#7a7a7a" stroke="#4a4a4a" stroke-width="0.5"/>
<line x1="411.80" y1="492.90000000000003" x2="411.80" y2="495.90000000000003" stroke="#9c9c9c" stroke-width="0.8"/>
<line x1="411.80" y1="275.7" x2="411.80" y2="272.7" stroke="#9c9c9c" stroke-width="0.8"/>
<line x1="440.45" y1="492.90000000000003" x2="440.45" y2="495.90000000000003" stroke="#9c9c9c" stroke-width="0.8"/>
<line x1="440.45" y1="275.7" x2="440.45" y2="272.7" stroke="#9c9c9c" stroke-width="0.8"/>
<line x1="469.10" y1="492.90000000000003" x2="469.10" y2="495.90000000000003" stroke="#9c9c9c" stroke-width="0.8"/>
<line x1="469.10" y1="275.7" x2="469.10" y2="272.7" stroke="#9c9c9c" stroke-width="0.8"/>
<line x1="497.75" y1="492.90000000000003" x2="497.75" y2="495.90000000000003" stroke="#9c9c9c" stroke-width="0.8"/>
<line x1="497.75" y1="275.7" x2="497.75" y2="272.7" stroke="#9c9c9c" stroke-width="0.8"/>
<line x1="526.40" y1="492.90000000000003" x2="526.40" y2="495.90000000000003" stroke="#9c9c9c" stroke-width="0.8"/>
<line x1="526.40" y1="275.7" x2="526.40" y2="272.7" stroke="#9c9c9c" stroke-width="0.8"/>
<line x1="555.05" y1="492.90000000000003" x2="555.05" y2="495.90000000000003" stroke="#9c9c9c" stroke-width="0.8"/>
<line x1="555.05" y1="275.7" x2="555.05" y2="272.7" stroke="#9c9c9c" stroke-width="0.8"/>
<line x1="583.70" y1="492.90000000000003" x2="583.70" y2="495.90000000000003" stroke="#9c9c9c" stroke-width="0.8"/>
<line x1="583.70" y1="275.7" x2="583.70" y2="272.7" stroke="#9c9c9c" stroke-width="0.8"/>
<line x1="612.35" y1="492.90000000000003" x2="612.35" y2="495.90000000000003" stroke="#9c9c9c" stroke-width="0.8"/>
<line x1="612.35" y1="275.7" x2="612.35" y2="272.7" stroke="#9c9c9c" stroke-width="0.8"/>
<line x1="641.00" y1="492.90000000000003" x2="641.00" y2="495.90000000000003" stroke="#9c9c9c" stroke-width="0.8"/>
<line x1="641.00" y1="275.7" x2="641.00" y2="272.7" stroke="#9c9c9c" stroke-width="0.8"/>
<line x1="410.7" y1="276.80" x2="407.7" y2="276.80" stroke="#9c9c9c" stroke-width="0.8"/>
<line x1="642.1" y1="276.80" x2="645.1" y2="276.80" stroke="#9c9c9c" stroke-width="0.8"/>
<line x1="410.7" y1="300.69" x2="407.7" y2="300.69" stroke="#9c9c9c" stroke-width="0.8"/>
<line x1="642.1" y1="300.69" x2="645.1" y2="300.69" stroke="#9c9c9c" stroke-width="0.8"/>
<line x1="410.7" y1="324.58" x2="407.7" y2="324.58" stroke="#9c9c9c" stroke-width="0.8"/>
<line x1="642.1" y1="324.58" x2="645.1" y2="324.58" stroke="#9c9c9c" stroke-width="0.8"/>
<line x1="410.7" y1="348.47" x2="407.7" y2="348.47" stroke="#9c9c9c" stroke-width="0.8"/>
<line x1="642.1" y1="348.47" x2="645.1" y2="348.47" stroke="#9c9c9c" stroke-width="0.8"/>
<line x1="410.7" y1="372.36" x2="407.7" y2="372.36" stroke="#9c9c9c" stroke-width="0.8"/>
<line x1="642.1" y1="372.36" x2="645.1" y2="372.36" stroke="#9c9c9c" stroke-width="0.8"/>
<line x1="410.7" y1="396.24" x2="407.7" y2="396.24" stroke="#9c9c9c" stroke-width="0.8"/>
<line x1="642.1" y1="396.24" x2="645.1" y2="396.24" stroke="#9c9c9c" stroke-width="0.8"/>
<line x1="410.7" y1="420.13" x2="407.7" y2="420.13" stroke="#9c9c9c" stroke-width="0.8"/>
<line x1="642.1" y1="420.13" x2="645.1" y2="420.13" stroke="#9c9c9c" stroke-width="0.8"/>
<line x1="410.7" y1="444.02" x2="407.7" y2="444.02" stroke="#9c9c9c" stroke-width="0.8"/>
<line x1="642.1" y1="444.02" x2="645.1" y2="444.02" stroke="#9c9c9c" stroke-width="0.8"/>
<line x1="410.7" y1="467.91" x2="407.7" y2="467.91" stroke="#9c9c9c" stroke-width="0.8"/>
<line x1="642.1" y1="467.91" x2="645.1" y2="467.91" stroke="#9c9c9c" stroke-width="0.8"/>
<line x1="410.7" y1="491.80" x2="407.7" y2="491.80" stroke="#9c9c9c" stroke-width="0.8"/>
<line x1="642.1" y1="491.80" x2="645.1" y2="491.80" stroke="#9c9c9c" stroke-width="0.8"/>
<text x="410.60" y="506.71" font-size="10.3" text-anchor="middle" fill="#686868" stroke="#686868" stroke-width="0.25" font-family='"Liberation Sans", sans-serif' >−0.2</text>
<text x="439.25" y="506.71" font-size="10.3" text-anchor="middle" fill="#686868" stroke="#686868" stroke-width="0.25" font-family='"Liberation Sans", sans-serif' >0.0</text>
<text x="467.90" y="506.71" font-size="10.3" text-anchor="middle" fill="#686868" stroke="#686868" stroke-width="0.25" font-family='"Liberation Sans", sans-serif' >0.2</text>
<text x="496.55" y="506.71" font-size="10.3" text-anchor="middle" fill="#686868" stroke="#686868" stroke-width="0.25" font-family='"Liberation Sans", sans-serif' >0.4</text>
<text x="525.20" y="506.71" font-size="10.3" text-anchor="middle" fill="#686868" stroke="#686868" stroke-width="0.25" font-family='"Liberation Sans", sans-serif' >0.6</text>
<text x="553.85" y="506.71" font-size="10.3" text-anchor="middle" fill="#686868" stroke="#686868" stroke-width="0.25" font-family='"Liberation Sans", sans-serif' >0.8</text>
<text x="582.50" y="506.71" font-size="10.3" text-anchor="middle" fill="#686868" stroke="#686868" stroke-width="0.25" font-family='"Liberation Sans", sans-serif' >1.0</text>
<text x="611.15" y="506.71" font-size="10.3" text-anchor="middle" fill="#686868" stroke="#686868" stroke-width="0.25" font-family='"Liberation Sans", sans-serif' >1.2</text>
<text x="639.80" y="506.71" font-size="10.3" text-anchor="middle" fill="#686868" stroke="#686868" stroke-width="0.25" font-family='"Liberation Sans", sans-serif' >1.4</text>
<text x="402.70" y="279.41" font-size="10.3" text-anchor="end" fill="#686868" stroke="#686868" stroke-width="0.25" font-family='"Liberation Sans", sans-serif' >1800</text>
<text x="402.70" y="303.30" font-size="10.3" text-anchor="end" fill="#686868" stroke="#686868" stroke-width="0.25" font-family='"Liberation Sans", sans-serif' >1600</text>
<text x="402.70" y="327.19" font-size="10.3" text-anchor="end" fill="#686868" stroke="#686868" stroke-width="0.25" font-family='"Liberation Sans", sans-serif' >1400</text>
<text x="402.70" y="351.07" font-size="10.3" text-anchor="end" fill="#686868" stroke="#686868" stroke-width="0.25" font-family='"Liberation Sans", sans-serif' >1200</text>
<text x="402.70" y="374.96" font-size="10.3" text-anchor="end" fill="#686868" stroke="#686868" stroke-width="0.25" font-family='"Liberation Sans", sans-serif' >1000</text>
<text x="402.70" y="398.85" font-size="10.3" text-anchor="end" fill="#686868" stroke="#686868" stroke-width="0.25" font-family='"Liberation Sans", sans-serif' >800</text>
<text x="402.70" y="422.74" font-size="10.3" text-anchor="end" fill="#686868" stroke="#686868" stroke-width="0.25" font-family='"Liberation Sans", sans-serif' >600</text>
<text x="402.70" y="446.63" font-size="10.3" text-anchor="end" fill="#686868" stroke="#686868" stroke-width="0.25" font-family='"Liberation Sans", sans-serif' >400</text>
<text x="402.70" y="470.52" font-size="10.3" text-anchor="end" fill="#686868" stroke="#686868" stroke-width="0.25" font-family='"Liberation Sans", sans-serif' >200</text>
<text x="402.70" y="494.41" font-size="10.3" text-anchor="end" fill="#686868" stroke="#686868" stroke-width="0.25" font-family='"Liberation Sans", sans-serif' >0</text>
<text x="526.4" y="523.6" font-size="12" text-anchor="middle" fill="#6c6c6c" font-family='"Liberation Serif", serif'>Δ<tspan font-style="italic">F</tspan>606<tspan font-style="italic">Wacs</tspan><tspan font-size="8" dy="2.2">0</tspan></text>
<text transform="translate(370.0,384.6) rotate(-90)" font-size="12.6" text-anchor="middle" fill="#6c6c6c" font-family='"Liberation Serif", serif'>N(Δ<tspan font-style="italic">F</tspan>606<tspan font-style="italic">W</tspan><tspan font-style="italic" font-size="10" dy="1">acs</tspan><tspan font-size="7" dy="1.5">0</tspan><tspan dy="-2.5">)</tspan></text>
</svg>
</div>
</body></html>
